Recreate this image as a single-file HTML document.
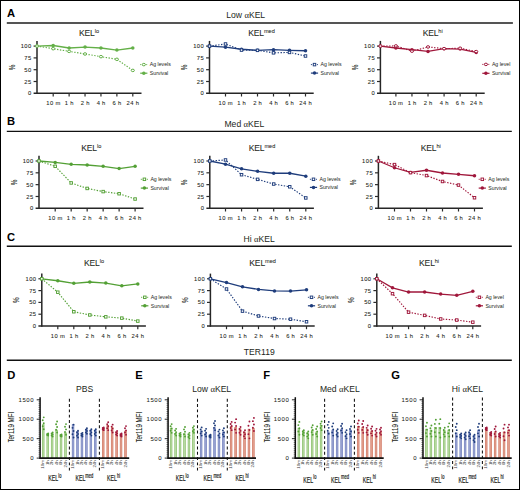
<!DOCTYPE html>
<html><head><meta charset="utf-8"><style>
html,body{margin:0;padding:0;background:#fff;width:520px;height:490px;overflow:hidden}
svg{display:block;font-family:"Liberation Sans", sans-serif}
</style></head><body>
<svg width="520" height="490" viewBox="0 0 520 490">
<rect x="0.5" y="0.5" width="519" height="489" fill="#fff" stroke="#000" stroke-width="1"/>
<text x="7.00" y="17.00" font-size="11.2" text-anchor="start" font-weight="bold" fill="#000" >A</text>
<text x="245.70" y="17.90" font-size="8.6" text-anchor="middle" font-weight="normal" fill="#231f20" >Low <tspan font-family="Liberation Serif">α</tspan>KEL</text>
<line x1="6.80" y1="23.00" x2="512.90" y2="23.00" stroke="#555" stroke-width="2.0" />
<text x="7.00" y="125.40" font-size="11.2" text-anchor="start" font-weight="bold" fill="#000" >B</text>
<text x="244.40" y="126.90" font-size="8.6" text-anchor="middle" font-weight="normal" fill="#231f20" >Med <tspan font-family="Liberation Serif">α</tspan>KEL</text>
<line x1="6.80" y1="131.40" x2="511.80" y2="131.40" stroke="#111" stroke-width="1.4" />
<text x="7.00" y="240.60" font-size="11.2" text-anchor="start" font-weight="bold" fill="#000" >C</text>
<text x="259.20" y="241.90" font-size="8.6" text-anchor="middle" font-weight="normal" fill="#231f20" >Hi <tspan font-family="Liberation Serif">α</tspan>KEL</text>
<line x1="6.80" y1="246.30" x2="511.80" y2="246.30" stroke="#111" stroke-width="1.4" />
<text x="259.30" y="355.20" font-size="8.6" text-anchor="middle" font-weight="normal" fill="#231f20" >TER119</text>
<line x1="6.80" y1="360.30" x2="511.80" y2="360.30" stroke="#111" stroke-width="1.4" />
<line x1="37.00" y1="40.91" x2="37.00" y2="94.05" stroke="#262626" stroke-width="1.5" />
<line x1="33.60" y1="93.30" x2="141.50" y2="93.30" stroke="#262626" stroke-width="1.5" />
<line x1="33.60" y1="81.50" x2="37.00" y2="81.50" stroke="#2b2b2b" stroke-width="1.2" />
<line x1="33.60" y1="69.70" x2="37.00" y2="69.70" stroke="#2b2b2b" stroke-width="1.2" />
<line x1="33.60" y1="57.90" x2="37.00" y2="57.90" stroke="#2b2b2b" stroke-width="1.2" />
<line x1="33.60" y1="46.10" x2="37.00" y2="46.10" stroke="#2b2b2b" stroke-width="1.2" />
<text x="31.70" y="95.35" font-size="5.8" text-anchor="end" font-weight="normal" fill="#231f20" stroke="#231f20" stroke-width="0.08" letter-spacing="0.45">0</text>
<text x="31.70" y="83.55" font-size="5.8" text-anchor="end" font-weight="normal" fill="#231f20" stroke="#231f20" stroke-width="0.08" letter-spacing="0.45">25</text>
<text x="31.70" y="71.75" font-size="5.8" text-anchor="end" font-weight="normal" fill="#231f20" stroke="#231f20" stroke-width="0.08" letter-spacing="0.45">50</text>
<text x="31.70" y="59.95" font-size="5.8" text-anchor="end" font-weight="normal" fill="#231f20" stroke="#231f20" stroke-width="0.08" letter-spacing="0.45">75</text>
<text x="31.70" y="48.15" font-size="5.8" text-anchor="end" font-weight="normal" fill="#231f20" stroke="#231f20" stroke-width="0.08" letter-spacing="0.45">100</text>
<line x1="53.20" y1="93.30" x2="53.20" y2="96.50" stroke="#2b2b2b" stroke-width="1.2" />
<text x="53.50" y="105.20" font-size="5.8" text-anchor="middle" font-weight="normal" fill="#231f20" stroke="#231f20" stroke-width="0.07" letter-spacing="0.6" word-spacing="-0.6">10 m</text>
<line x1="69.12" y1="93.30" x2="69.12" y2="96.50" stroke="#2b2b2b" stroke-width="1.2" />
<text x="69.42" y="105.20" font-size="5.8" text-anchor="middle" font-weight="normal" fill="#231f20" stroke="#231f20" stroke-width="0.07" letter-spacing="0.6" word-spacing="-0.6">1 h</text>
<line x1="85.04" y1="93.30" x2="85.04" y2="96.50" stroke="#2b2b2b" stroke-width="1.2" />
<text x="85.34" y="105.20" font-size="5.8" text-anchor="middle" font-weight="normal" fill="#231f20" stroke="#231f20" stroke-width="0.07" letter-spacing="0.6" word-spacing="-0.6">2 h</text>
<line x1="100.96" y1="93.30" x2="100.96" y2="96.50" stroke="#2b2b2b" stroke-width="1.2" />
<text x="101.26" y="105.20" font-size="5.8" text-anchor="middle" font-weight="normal" fill="#231f20" stroke="#231f20" stroke-width="0.07" letter-spacing="0.6" word-spacing="-0.6">4 h</text>
<line x1="116.88" y1="93.30" x2="116.88" y2="96.50" stroke="#2b2b2b" stroke-width="1.2" />
<text x="117.18" y="105.20" font-size="5.8" text-anchor="middle" font-weight="normal" fill="#231f20" stroke="#231f20" stroke-width="0.07" letter-spacing="0.6" word-spacing="-0.6">6 h</text>
<line x1="132.80" y1="93.30" x2="132.80" y2="96.50" stroke="#2b2b2b" stroke-width="1.2" />
<text x="133.10" y="105.20" font-size="5.8" text-anchor="middle" font-weight="normal" fill="#231f20" stroke="#231f20" stroke-width="0.07" letter-spacing="0.6" word-spacing="-0.6">24 h</text>
<text x="0" y="0" font-size="9" text-anchor="middle" fill="#231f20" stroke="#231f20" stroke-width="0.1" transform="translate(14.60,67.40) rotate(-90) scale(0.7,1)">%</text>
<polyline points="37.00,46.10 53.20,48.70 69.12,51.39 85.04,53.98 100.96,56.67 116.88,59.32 132.80,70.41" fill="none" stroke="#64b048" stroke-width="1.15" stroke-dasharray="1.4,1.5"/>
<polyline points="37.00,46.10 53.20,45.49 69.12,47.99 85.04,47.04 100.96,47.99 116.88,50.02 132.80,47.99" fill="none" stroke="#64b048" stroke-width="1.3"/>
<circle cx="37.00" cy="46.10" r="1.75" fill="#64b048"/>
<circle cx="53.20" cy="45.49" r="1.75" fill="#64b048"/>
<circle cx="69.12" cy="47.99" r="1.75" fill="#64b048"/>
<circle cx="85.04" cy="47.04" r="1.75" fill="#64b048"/>
<circle cx="100.96" cy="47.99" r="1.75" fill="#64b048"/>
<circle cx="116.88" cy="50.02" r="1.75" fill="#64b048"/>
<circle cx="132.80" cy="47.99" r="1.75" fill="#64b048"/>
<ellipse cx="37.00" cy="46.10" rx="1.6" ry="1.25" fill="#fff" stroke="#64b048" stroke-width="1.0"/>
<ellipse cx="53.20" cy="48.70" rx="1.6" ry="1.25" fill="#fff" stroke="#64b048" stroke-width="1.0"/>
<ellipse cx="69.12" cy="51.39" rx="1.6" ry="1.25" fill="#fff" stroke="#64b048" stroke-width="1.0"/>
<ellipse cx="85.04" cy="53.98" rx="1.6" ry="1.25" fill="#fff" stroke="#64b048" stroke-width="1.0"/>
<ellipse cx="100.96" cy="56.67" rx="1.6" ry="1.25" fill="#fff" stroke="#64b048" stroke-width="1.0"/>
<ellipse cx="116.88" cy="59.32" rx="1.6" ry="1.25" fill="#fff" stroke="#64b048" stroke-width="1.0"/>
<ellipse cx="132.80" cy="70.41" rx="1.6" ry="1.25" fill="#fff" stroke="#64b048" stroke-width="1.0"/>
<line x1="140.20" y1="64.60" x2="147.40" y2="64.60" stroke="#64b048" stroke-width="1" stroke-dasharray="1,1"/>
<ellipse cx="143.80" cy="64.60" rx="1.6" ry="1.25" fill="#fff" stroke="#64b048" stroke-width="1.0"/>
<line x1="140.20" y1="73.20" x2="147.40" y2="73.20" stroke="#64b048" stroke-width="1.2" />
<circle cx="143.80" cy="73.20" r="1.75" fill="#64b048"/>
<text x="149.80" y="66.40" font-size="5.2" text-anchor="start" font-weight="normal" fill="#231f20" >Ag levels</text>
<text x="149.80" y="75.00" font-size="5.2" text-anchor="start" font-weight="normal" fill="#231f20" >Survival</text>
<text x="89.00" y="35.80" font-size="8.6" text-anchor="middle" fill="#231f20" stroke="#231f20" stroke-width="0.05" letter-spacing="-0.2">KEL<tspan font-size="5.6" dy="-3.3" letter-spacing="0">lo</tspan></text>
<line x1="209.50" y1="40.91" x2="209.50" y2="94.05" stroke="#262626" stroke-width="1.5" />
<line x1="206.10" y1="93.30" x2="313.70" y2="93.30" stroke="#262626" stroke-width="1.5" />
<line x1="206.10" y1="81.50" x2="209.50" y2="81.50" stroke="#2b2b2b" stroke-width="1.2" />
<line x1="206.10" y1="69.70" x2="209.50" y2="69.70" stroke="#2b2b2b" stroke-width="1.2" />
<line x1="206.10" y1="57.90" x2="209.50" y2="57.90" stroke="#2b2b2b" stroke-width="1.2" />
<line x1="206.10" y1="46.10" x2="209.50" y2="46.10" stroke="#2b2b2b" stroke-width="1.2" />
<text x="204.20" y="95.35" font-size="5.8" text-anchor="end" font-weight="normal" fill="#231f20" stroke="#231f20" stroke-width="0.08" letter-spacing="0.45">0</text>
<text x="204.20" y="83.55" font-size="5.8" text-anchor="end" font-weight="normal" fill="#231f20" stroke="#231f20" stroke-width="0.08" letter-spacing="0.45">25</text>
<text x="204.20" y="71.75" font-size="5.8" text-anchor="end" font-weight="normal" fill="#231f20" stroke="#231f20" stroke-width="0.08" letter-spacing="0.45">50</text>
<text x="204.20" y="59.95" font-size="5.8" text-anchor="end" font-weight="normal" fill="#231f20" stroke="#231f20" stroke-width="0.08" letter-spacing="0.45">75</text>
<text x="204.20" y="48.15" font-size="5.8" text-anchor="end" font-weight="normal" fill="#231f20" stroke="#231f20" stroke-width="0.08" letter-spacing="0.45">100</text>
<line x1="225.50" y1="93.30" x2="225.50" y2="96.50" stroke="#2b2b2b" stroke-width="1.2" />
<text x="225.80" y="105.20" font-size="5.8" text-anchor="middle" font-weight="normal" fill="#231f20" stroke="#231f20" stroke-width="0.07" letter-spacing="0.6" word-spacing="-0.6">10 m</text>
<line x1="241.50" y1="93.30" x2="241.50" y2="96.50" stroke="#2b2b2b" stroke-width="1.2" />
<text x="241.80" y="105.20" font-size="5.8" text-anchor="middle" font-weight="normal" fill="#231f20" stroke="#231f20" stroke-width="0.07" letter-spacing="0.6" word-spacing="-0.6">1 h</text>
<line x1="257.50" y1="93.30" x2="257.50" y2="96.50" stroke="#2b2b2b" stroke-width="1.2" />
<text x="257.80" y="105.20" font-size="5.8" text-anchor="middle" font-weight="normal" fill="#231f20" stroke="#231f20" stroke-width="0.07" letter-spacing="0.6" word-spacing="-0.6">2 h</text>
<line x1="273.50" y1="93.30" x2="273.50" y2="96.50" stroke="#2b2b2b" stroke-width="1.2" />
<text x="273.80" y="105.20" font-size="5.8" text-anchor="middle" font-weight="normal" fill="#231f20" stroke="#231f20" stroke-width="0.07" letter-spacing="0.6" word-spacing="-0.6">4 h</text>
<line x1="289.50" y1="93.30" x2="289.50" y2="96.50" stroke="#2b2b2b" stroke-width="1.2" />
<text x="289.80" y="105.20" font-size="5.8" text-anchor="middle" font-weight="normal" fill="#231f20" stroke="#231f20" stroke-width="0.07" letter-spacing="0.6" word-spacing="-0.6">6 h</text>
<line x1="305.50" y1="93.30" x2="305.50" y2="96.50" stroke="#2b2b2b" stroke-width="1.2" />
<text x="305.80" y="105.20" font-size="5.8" text-anchor="middle" font-weight="normal" fill="#231f20" stroke="#231f20" stroke-width="0.07" letter-spacing="0.6" word-spacing="-0.6">24 h</text>
<text x="0" y="0" font-size="9" text-anchor="middle" fill="#231f20" stroke="#231f20" stroke-width="0.1" transform="translate(187.10,67.40) rotate(-90) scale(0.7,1)">%</text>
<polyline points="209.50,46.10 225.50,43.98 241.50,50.11 257.50,50.35 273.50,52.85 289.50,52.42 305.50,56.01" fill="none" stroke="#1f3d7c" stroke-width="1.15" stroke-dasharray="1.4,1.5"/>
<polyline points="209.50,46.10 225.50,47.14 241.50,49.26 257.50,50.35 273.50,49.69 289.50,50.35 305.50,50.73" fill="none" stroke="#1f3d7c" stroke-width="1.3"/>
<circle cx="209.50" cy="46.10" r="1.75" fill="#1f3d7c"/>
<circle cx="225.50" cy="47.14" r="1.75" fill="#1f3d7c"/>
<circle cx="241.50" cy="49.26" r="1.75" fill="#1f3d7c"/>
<circle cx="257.50" cy="50.35" r="1.75" fill="#1f3d7c"/>
<circle cx="273.50" cy="49.69" r="1.75" fill="#1f3d7c"/>
<circle cx="289.50" cy="50.35" r="1.75" fill="#1f3d7c"/>
<circle cx="305.50" cy="50.73" r="1.75" fill="#1f3d7c"/>
<rect x="208.25" y="44.85" width="2.5" height="2.5" fill="#fff" stroke="#1f3d7c" stroke-width="0.95"/>
<rect x="224.25" y="42.73" width="2.5" height="2.5" fill="#fff" stroke="#1f3d7c" stroke-width="0.95"/>
<rect x="240.25" y="48.86" width="2.5" height="2.5" fill="#fff" stroke="#1f3d7c" stroke-width="0.95"/>
<rect x="256.25" y="49.10" width="2.5" height="2.5" fill="#fff" stroke="#1f3d7c" stroke-width="0.95"/>
<rect x="272.25" y="51.60" width="2.5" height="2.5" fill="#fff" stroke="#1f3d7c" stroke-width="0.95"/>
<rect x="288.25" y="51.17" width="2.5" height="2.5" fill="#fff" stroke="#1f3d7c" stroke-width="0.95"/>
<rect x="304.25" y="54.76" width="2.5" height="2.5" fill="#fff" stroke="#1f3d7c" stroke-width="0.95"/>
<line x1="310.90" y1="64.60" x2="318.10" y2="64.60" stroke="#1f3d7c" stroke-width="1" stroke-dasharray="1,1"/>
<rect x="313.25" y="63.35" width="2.5" height="2.5" fill="#fff" stroke="#1f3d7c" stroke-width="0.95"/>
<line x1="310.90" y1="73.10" x2="318.10" y2="73.10" stroke="#1f3d7c" stroke-width="1.2" />
<circle cx="314.50" cy="73.10" r="1.75" fill="#1f3d7c"/>
<text x="320.50" y="66.40" font-size="5.2" text-anchor="start" font-weight="normal" fill="#231f20" >Ag levels</text>
<text x="320.50" y="74.90" font-size="5.2" text-anchor="start" font-weight="normal" fill="#231f20" >Survival</text>
<text x="261.50" y="35.80" font-size="8.6" text-anchor="middle" fill="#231f20" stroke="#231f20" stroke-width="0.05" letter-spacing="-0.2">KEL<tspan font-size="5.6" dy="-3.3" letter-spacing="0">med</tspan></text>
<line x1="380.40" y1="40.91" x2="380.40" y2="94.05" stroke="#262626" stroke-width="1.5" />
<line x1="377.00" y1="93.30" x2="484.70" y2="93.30" stroke="#262626" stroke-width="1.5" />
<line x1="377.00" y1="81.50" x2="380.40" y2="81.50" stroke="#2b2b2b" stroke-width="1.2" />
<line x1="377.00" y1="69.70" x2="380.40" y2="69.70" stroke="#2b2b2b" stroke-width="1.2" />
<line x1="377.00" y1="57.90" x2="380.40" y2="57.90" stroke="#2b2b2b" stroke-width="1.2" />
<line x1="377.00" y1="46.10" x2="380.40" y2="46.10" stroke="#2b2b2b" stroke-width="1.2" />
<text x="375.10" y="95.35" font-size="5.8" text-anchor="end" font-weight="normal" fill="#231f20" stroke="#231f20" stroke-width="0.08" letter-spacing="0.45">0</text>
<text x="375.10" y="83.55" font-size="5.8" text-anchor="end" font-weight="normal" fill="#231f20" stroke="#231f20" stroke-width="0.08" letter-spacing="0.45">25</text>
<text x="375.10" y="71.75" font-size="5.8" text-anchor="end" font-weight="normal" fill="#231f20" stroke="#231f20" stroke-width="0.08" letter-spacing="0.45">50</text>
<text x="375.10" y="59.95" font-size="5.8" text-anchor="end" font-weight="normal" fill="#231f20" stroke="#231f20" stroke-width="0.08" letter-spacing="0.45">75</text>
<text x="375.10" y="48.15" font-size="5.8" text-anchor="end" font-weight="normal" fill="#231f20" stroke="#231f20" stroke-width="0.08" letter-spacing="0.45">100</text>
<line x1="395.90" y1="93.30" x2="395.90" y2="96.50" stroke="#2b2b2b" stroke-width="1.2" />
<text x="396.20" y="105.20" font-size="5.8" text-anchor="middle" font-weight="normal" fill="#231f20" stroke="#231f20" stroke-width="0.07" letter-spacing="0.6" word-spacing="-0.6">10 m</text>
<line x1="411.96" y1="93.30" x2="411.96" y2="96.50" stroke="#2b2b2b" stroke-width="1.2" />
<text x="412.26" y="105.20" font-size="5.8" text-anchor="middle" font-weight="normal" fill="#231f20" stroke="#231f20" stroke-width="0.07" letter-spacing="0.6" word-spacing="-0.6">1 h</text>
<line x1="428.02" y1="93.30" x2="428.02" y2="96.50" stroke="#2b2b2b" stroke-width="1.2" />
<text x="428.32" y="105.20" font-size="5.8" text-anchor="middle" font-weight="normal" fill="#231f20" stroke="#231f20" stroke-width="0.07" letter-spacing="0.6" word-spacing="-0.6">2 h</text>
<line x1="444.08" y1="93.30" x2="444.08" y2="96.50" stroke="#2b2b2b" stroke-width="1.2" />
<text x="444.38" y="105.20" font-size="5.8" text-anchor="middle" font-weight="normal" fill="#231f20" stroke="#231f20" stroke-width="0.07" letter-spacing="0.6" word-spacing="-0.6">4 h</text>
<line x1="460.14" y1="93.30" x2="460.14" y2="96.50" stroke="#2b2b2b" stroke-width="1.2" />
<text x="460.44" y="105.20" font-size="5.8" text-anchor="middle" font-weight="normal" fill="#231f20" stroke="#231f20" stroke-width="0.07" letter-spacing="0.6" word-spacing="-0.6">6 h</text>
<line x1="476.20" y1="93.30" x2="476.20" y2="96.50" stroke="#2b2b2b" stroke-width="1.2" />
<text x="476.50" y="105.20" font-size="5.8" text-anchor="middle" font-weight="normal" fill="#231f20" stroke="#231f20" stroke-width="0.07" letter-spacing="0.6" word-spacing="-0.6">24 h</text>
<text x="0" y="0" font-size="9" text-anchor="middle" fill="#231f20" stroke="#231f20" stroke-width="0.1" transform="translate(358.00,67.40) rotate(-90) scale(0.7,1)">%</text>
<polyline points="380.40,46.10 395.90,45.91 411.96,51.15 428.02,46.95 444.08,48.65 460.14,48.22 476.20,51.58" fill="none" stroke="#a0173b" stroke-width="1.15" stroke-dasharray="1.4,1.5"/>
<polyline points="380.40,46.10 395.90,47.99 411.96,49.69 428.02,51.39 444.08,48.65 460.14,49.03 476.20,52.42" fill="none" stroke="#a0173b" stroke-width="1.3"/>
<circle cx="380.40" cy="46.10" r="1.75" fill="#a0173b"/>
<circle cx="395.90" cy="47.99" r="1.75" fill="#a0173b"/>
<circle cx="411.96" cy="49.69" r="1.75" fill="#a0173b"/>
<circle cx="428.02" cy="51.39" r="1.75" fill="#a0173b"/>
<circle cx="444.08" cy="48.65" r="1.75" fill="#a0173b"/>
<circle cx="460.14" cy="49.03" r="1.75" fill="#a0173b"/>
<circle cx="476.20" cy="52.42" r="1.75" fill="#a0173b"/>
<ellipse cx="380.40" cy="46.10" rx="1.6" ry="1.25" fill="#fff" stroke="#a0173b" stroke-width="1.0"/>
<ellipse cx="395.90" cy="45.91" rx="1.6" ry="1.25" fill="#fff" stroke="#a0173b" stroke-width="1.0"/>
<ellipse cx="411.96" cy="51.15" rx="1.6" ry="1.25" fill="#fff" stroke="#a0173b" stroke-width="1.0"/>
<ellipse cx="428.02" cy="46.95" rx="1.6" ry="1.25" fill="#fff" stroke="#a0173b" stroke-width="1.0"/>
<ellipse cx="444.08" cy="48.65" rx="1.6" ry="1.25" fill="#fff" stroke="#a0173b" stroke-width="1.0"/>
<ellipse cx="460.14" cy="48.22" rx="1.6" ry="1.25" fill="#fff" stroke="#a0173b" stroke-width="1.0"/>
<ellipse cx="476.20" cy="51.58" rx="1.6" ry="1.25" fill="#fff" stroke="#a0173b" stroke-width="1.0"/>
<line x1="482.30" y1="64.40" x2="489.50" y2="64.40" stroke="#a0173b" stroke-width="1" stroke-dasharray="1,1"/>
<ellipse cx="485.90" cy="64.40" rx="1.6" ry="1.25" fill="#fff" stroke="#a0173b" stroke-width="1.0"/>
<line x1="482.30" y1="73.30" x2="489.50" y2="73.30" stroke="#a0173b" stroke-width="1.2" />
<circle cx="485.90" cy="73.30" r="1.75" fill="#a0173b"/>
<text x="491.90" y="66.20" font-size="5.2" text-anchor="start" font-weight="normal" fill="#231f20" >Ag level</text>
<text x="491.90" y="75.10" font-size="5.2" text-anchor="start" font-weight="normal" fill="#231f20" >Survival</text>
<text x="432.70" y="35.80" font-size="8.6" text-anchor="middle" fill="#231f20" stroke="#231f20" stroke-width="0.05" letter-spacing="-0.2">KEL<tspan font-size="5.6" dy="-3.3" letter-spacing="0">hi</tspan></text>
<line x1="39.00" y1="155.80" x2="39.00" y2="209.05" stroke="#262626" stroke-width="1.5" />
<line x1="35.60" y1="208.30" x2="143.50" y2="208.30" stroke="#262626" stroke-width="1.5" />
<line x1="35.60" y1="196.48" x2="39.00" y2="196.48" stroke="#2b2b2b" stroke-width="1.2" />
<line x1="35.60" y1="184.65" x2="39.00" y2="184.65" stroke="#2b2b2b" stroke-width="1.2" />
<line x1="35.60" y1="172.82" x2="39.00" y2="172.82" stroke="#2b2b2b" stroke-width="1.2" />
<line x1="35.60" y1="161.00" x2="39.00" y2="161.00" stroke="#2b2b2b" stroke-width="1.2" />
<text x="33.70" y="210.35" font-size="5.8" text-anchor="end" font-weight="normal" fill="#231f20" stroke="#231f20" stroke-width="0.08" letter-spacing="0.45">0</text>
<text x="33.70" y="198.53" font-size="5.8" text-anchor="end" font-weight="normal" fill="#231f20" stroke="#231f20" stroke-width="0.08" letter-spacing="0.45">25</text>
<text x="33.70" y="186.70" font-size="5.8" text-anchor="end" font-weight="normal" fill="#231f20" stroke="#231f20" stroke-width="0.08" letter-spacing="0.45">50</text>
<text x="33.70" y="174.88" font-size="5.8" text-anchor="end" font-weight="normal" fill="#231f20" stroke="#231f20" stroke-width="0.08" letter-spacing="0.45">75</text>
<text x="33.70" y="163.05" font-size="5.8" text-anchor="end" font-weight="normal" fill="#231f20" stroke="#231f20" stroke-width="0.08" letter-spacing="0.45">100</text>
<line x1="55.20" y1="208.30" x2="55.20" y2="211.50" stroke="#2b2b2b" stroke-width="1.2" />
<text x="55.50" y="220.20" font-size="5.8" text-anchor="middle" font-weight="normal" fill="#231f20" stroke="#231f20" stroke-width="0.07" letter-spacing="0.6" word-spacing="-0.6">10 m</text>
<line x1="71.18" y1="208.30" x2="71.18" y2="211.50" stroke="#2b2b2b" stroke-width="1.2" />
<text x="71.48" y="220.20" font-size="5.8" text-anchor="middle" font-weight="normal" fill="#231f20" stroke="#231f20" stroke-width="0.07" letter-spacing="0.6" word-spacing="-0.6">1 h</text>
<line x1="87.16" y1="208.30" x2="87.16" y2="211.50" stroke="#2b2b2b" stroke-width="1.2" />
<text x="87.46" y="220.20" font-size="5.8" text-anchor="middle" font-weight="normal" fill="#231f20" stroke="#231f20" stroke-width="0.07" letter-spacing="0.6" word-spacing="-0.6">2 h</text>
<line x1="103.14" y1="208.30" x2="103.14" y2="211.50" stroke="#2b2b2b" stroke-width="1.2" />
<text x="103.44" y="220.20" font-size="5.8" text-anchor="middle" font-weight="normal" fill="#231f20" stroke="#231f20" stroke-width="0.07" letter-spacing="0.6" word-spacing="-0.6">4 h</text>
<line x1="119.12" y1="208.30" x2="119.12" y2="211.50" stroke="#2b2b2b" stroke-width="1.2" />
<text x="119.42" y="220.20" font-size="5.8" text-anchor="middle" font-weight="normal" fill="#231f20" stroke="#231f20" stroke-width="0.07" letter-spacing="0.6" word-spacing="-0.6">6 h</text>
<line x1="135.10" y1="208.30" x2="135.10" y2="211.50" stroke="#2b2b2b" stroke-width="1.2" />
<text x="135.40" y="220.20" font-size="5.8" text-anchor="middle" font-weight="normal" fill="#231f20" stroke="#231f20" stroke-width="0.07" letter-spacing="0.6" word-spacing="-0.6">24 h</text>
<text x="0" y="0" font-size="9" text-anchor="middle" fill="#231f20" stroke="#231f20" stroke-width="0.1" transform="translate(16.60,182.35) rotate(-90) scale(0.7,1)">%</text>
<polyline points="39.00,161.00 55.20,166.30 71.18,182.95 87.16,188.43 103.14,191.60 119.12,193.73 135.10,199.03" fill="none" stroke="#53a035" stroke-width="1.15" stroke-dasharray="1.4,1.5"/>
<polyline points="39.00,161.00 55.20,162.47 71.18,164.36 87.16,165.02 103.14,166.30 119.12,168.62 135.10,166.30" fill="none" stroke="#53a035" stroke-width="1.3"/>
<circle cx="39.00" cy="161.00" r="1.75" fill="#53a035"/>
<circle cx="55.20" cy="162.47" r="1.75" fill="#53a035"/>
<circle cx="71.18" cy="164.36" r="1.75" fill="#53a035"/>
<circle cx="87.16" cy="165.02" r="1.75" fill="#53a035"/>
<circle cx="103.14" cy="166.30" r="1.75" fill="#53a035"/>
<circle cx="119.12" cy="168.62" r="1.75" fill="#53a035"/>
<circle cx="135.10" cy="166.30" r="1.75" fill="#53a035"/>
<rect x="37.75" y="159.75" width="2.5" height="2.5" fill="#fff" stroke="#53a035" stroke-width="0.95"/>
<rect x="53.95" y="165.05" width="2.5" height="2.5" fill="#fff" stroke="#53a035" stroke-width="0.95"/>
<rect x="69.93" y="181.70" width="2.5" height="2.5" fill="#fff" stroke="#53a035" stroke-width="0.95"/>
<rect x="85.91" y="187.18" width="2.5" height="2.5" fill="#fff" stroke="#53a035" stroke-width="0.95"/>
<rect x="101.89" y="190.35" width="2.5" height="2.5" fill="#fff" stroke="#53a035" stroke-width="0.95"/>
<rect x="117.87" y="192.48" width="2.5" height="2.5" fill="#fff" stroke="#53a035" stroke-width="0.95"/>
<rect x="133.85" y="197.78" width="2.5" height="2.5" fill="#fff" stroke="#53a035" stroke-width="0.95"/>
<line x1="140.80" y1="179.30" x2="148.00" y2="179.30" stroke="#53a035" stroke-width="1" stroke-dasharray="1,1"/>
<rect x="143.15" y="178.05" width="2.5" height="2.5" fill="#fff" stroke="#53a035" stroke-width="0.95"/>
<line x1="140.80" y1="188.10" x2="148.00" y2="188.10" stroke="#53a035" stroke-width="1.2" />
<circle cx="144.40" cy="188.10" r="1.75" fill="#53a035"/>
<text x="150.40" y="181.10" font-size="5.2" text-anchor="start" font-weight="normal" fill="#231f20" >Ag levels</text>
<text x="150.40" y="189.90" font-size="5.2" text-anchor="start" font-weight="normal" fill="#231f20" >Survival</text>
<text x="91.30" y="151.20" font-size="8.6" text-anchor="middle" fill="#231f20" stroke="#231f20" stroke-width="0.05" letter-spacing="-0.2">KEL<tspan font-size="5.6" dy="-3.3" letter-spacing="0">lo</tspan></text>
<line x1="209.80" y1="155.80" x2="209.80" y2="209.05" stroke="#262626" stroke-width="1.5" />
<line x1="206.40" y1="208.30" x2="313.90" y2="208.30" stroke="#262626" stroke-width="1.5" />
<line x1="206.40" y1="196.48" x2="209.80" y2="196.48" stroke="#2b2b2b" stroke-width="1.2" />
<line x1="206.40" y1="184.65" x2="209.80" y2="184.65" stroke="#2b2b2b" stroke-width="1.2" />
<line x1="206.40" y1="172.82" x2="209.80" y2="172.82" stroke="#2b2b2b" stroke-width="1.2" />
<line x1="206.40" y1="161.00" x2="209.80" y2="161.00" stroke="#2b2b2b" stroke-width="1.2" />
<text x="204.50" y="210.35" font-size="5.8" text-anchor="end" font-weight="normal" fill="#231f20" stroke="#231f20" stroke-width="0.08" letter-spacing="0.45">0</text>
<text x="204.50" y="198.53" font-size="5.8" text-anchor="end" font-weight="normal" fill="#231f20" stroke="#231f20" stroke-width="0.08" letter-spacing="0.45">25</text>
<text x="204.50" y="186.70" font-size="5.8" text-anchor="end" font-weight="normal" fill="#231f20" stroke="#231f20" stroke-width="0.08" letter-spacing="0.45">50</text>
<text x="204.50" y="174.88" font-size="5.8" text-anchor="end" font-weight="normal" fill="#231f20" stroke="#231f20" stroke-width="0.08" letter-spacing="0.45">75</text>
<text x="204.50" y="163.05" font-size="5.8" text-anchor="end" font-weight="normal" fill="#231f20" stroke="#231f20" stroke-width="0.08" letter-spacing="0.45">100</text>
<line x1="225.50" y1="208.30" x2="225.50" y2="211.50" stroke="#2b2b2b" stroke-width="1.2" />
<text x="225.80" y="220.20" font-size="5.8" text-anchor="middle" font-weight="normal" fill="#231f20" stroke="#231f20" stroke-width="0.07" letter-spacing="0.6" word-spacing="-0.6">10 m</text>
<line x1="241.56" y1="208.30" x2="241.56" y2="211.50" stroke="#2b2b2b" stroke-width="1.2" />
<text x="241.86" y="220.20" font-size="5.8" text-anchor="middle" font-weight="normal" fill="#231f20" stroke="#231f20" stroke-width="0.07" letter-spacing="0.6" word-spacing="-0.6">1 h</text>
<line x1="257.62" y1="208.30" x2="257.62" y2="211.50" stroke="#2b2b2b" stroke-width="1.2" />
<text x="257.92" y="220.20" font-size="5.8" text-anchor="middle" font-weight="normal" fill="#231f20" stroke="#231f20" stroke-width="0.07" letter-spacing="0.6" word-spacing="-0.6">2 h</text>
<line x1="273.68" y1="208.30" x2="273.68" y2="211.50" stroke="#2b2b2b" stroke-width="1.2" />
<text x="273.98" y="220.20" font-size="5.8" text-anchor="middle" font-weight="normal" fill="#231f20" stroke="#231f20" stroke-width="0.07" letter-spacing="0.6" word-spacing="-0.6">4 h</text>
<line x1="289.74" y1="208.30" x2="289.74" y2="211.50" stroke="#2b2b2b" stroke-width="1.2" />
<text x="290.04" y="220.20" font-size="5.8" text-anchor="middle" font-weight="normal" fill="#231f20" stroke="#231f20" stroke-width="0.07" letter-spacing="0.6" word-spacing="-0.6">6 h</text>
<line x1="305.80" y1="208.30" x2="305.80" y2="211.50" stroke="#2b2b2b" stroke-width="1.2" />
<text x="306.10" y="220.20" font-size="5.8" text-anchor="middle" font-weight="normal" fill="#231f20" stroke="#231f20" stroke-width="0.07" letter-spacing="0.6" word-spacing="-0.6">24 h</text>
<text x="0" y="0" font-size="9" text-anchor="middle" fill="#231f20" stroke="#231f20" stroke-width="0.1" transform="translate(187.40,182.35) rotate(-90) scale(0.7,1)">%</text>
<polyline points="209.80,161.00 225.50,159.96 241.56,174.72 257.62,179.35 273.68,184.04 289.74,186.78 305.80,197.94" fill="none" stroke="#1f3d7c" stroke-width="1.15" stroke-dasharray="1.4,1.5"/>
<polyline points="209.80,161.00 225.50,164.17 241.56,168.80 257.62,171.36 273.68,173.25 289.74,173.25 305.80,176.18" fill="none" stroke="#1f3d7c" stroke-width="1.3"/>
<circle cx="209.80" cy="161.00" r="1.75" fill="#1f3d7c"/>
<circle cx="225.50" cy="164.17" r="1.75" fill="#1f3d7c"/>
<circle cx="241.56" cy="168.80" r="1.75" fill="#1f3d7c"/>
<circle cx="257.62" cy="171.36" r="1.75" fill="#1f3d7c"/>
<circle cx="273.68" cy="173.25" r="1.75" fill="#1f3d7c"/>
<circle cx="289.74" cy="173.25" r="1.75" fill="#1f3d7c"/>
<circle cx="305.80" cy="176.18" r="1.75" fill="#1f3d7c"/>
<rect x="208.55" y="159.75" width="2.5" height="2.5" fill="#fff" stroke="#1f3d7c" stroke-width="0.95"/>
<rect x="224.25" y="158.71" width="2.5" height="2.5" fill="#fff" stroke="#1f3d7c" stroke-width="0.95"/>
<rect x="240.31" y="173.47" width="2.5" height="2.5" fill="#fff" stroke="#1f3d7c" stroke-width="0.95"/>
<rect x="256.37" y="178.10" width="2.5" height="2.5" fill="#fff" stroke="#1f3d7c" stroke-width="0.95"/>
<rect x="272.43" y="182.79" width="2.5" height="2.5" fill="#fff" stroke="#1f3d7c" stroke-width="0.95"/>
<rect x="288.49" y="185.53" width="2.5" height="2.5" fill="#fff" stroke="#1f3d7c" stroke-width="0.95"/>
<rect x="304.55" y="196.69" width="2.5" height="2.5" fill="#fff" stroke="#1f3d7c" stroke-width="0.95"/>
<line x1="309.90" y1="179.30" x2="317.10" y2="179.30" stroke="#1f3d7c" stroke-width="1" stroke-dasharray="1,1"/>
<rect x="312.25" y="178.05" width="2.5" height="2.5" fill="#fff" stroke="#1f3d7c" stroke-width="0.95"/>
<line x1="309.90" y1="187.40" x2="317.10" y2="187.40" stroke="#1f3d7c" stroke-width="1.2" />
<circle cx="313.50" cy="187.40" r="1.75" fill="#1f3d7c"/>
<text x="319.50" y="181.10" font-size="5.2" text-anchor="start" font-weight="normal" fill="#231f20" >Ag levels</text>
<text x="319.50" y="189.20" font-size="5.2" text-anchor="start" font-weight="normal" fill="#231f20" >Survival</text>
<text x="262.00" y="151.20" font-size="8.6" text-anchor="middle" fill="#231f20" stroke="#231f20" stroke-width="0.05" letter-spacing="-0.2">KEL<tspan font-size="5.6" dy="-3.3" letter-spacing="0">med</tspan></text>
<line x1="378.40" y1="155.80" x2="378.40" y2="209.05" stroke="#262626" stroke-width="1.5" />
<line x1="375.00" y1="208.30" x2="482.90" y2="208.30" stroke="#262626" stroke-width="1.5" />
<line x1="375.00" y1="196.48" x2="378.40" y2="196.48" stroke="#2b2b2b" stroke-width="1.2" />
<line x1="375.00" y1="184.65" x2="378.40" y2="184.65" stroke="#2b2b2b" stroke-width="1.2" />
<line x1="375.00" y1="172.82" x2="378.40" y2="172.82" stroke="#2b2b2b" stroke-width="1.2" />
<line x1="375.00" y1="161.00" x2="378.40" y2="161.00" stroke="#2b2b2b" stroke-width="1.2" />
<text x="373.10" y="210.35" font-size="5.8" text-anchor="end" font-weight="normal" fill="#231f20" stroke="#231f20" stroke-width="0.08" letter-spacing="0.45">0</text>
<text x="373.10" y="198.53" font-size="5.8" text-anchor="end" font-weight="normal" fill="#231f20" stroke="#231f20" stroke-width="0.08" letter-spacing="0.45">25</text>
<text x="373.10" y="186.70" font-size="5.8" text-anchor="end" font-weight="normal" fill="#231f20" stroke="#231f20" stroke-width="0.08" letter-spacing="0.45">50</text>
<text x="373.10" y="174.88" font-size="5.8" text-anchor="end" font-weight="normal" fill="#231f20" stroke="#231f20" stroke-width="0.08" letter-spacing="0.45">75</text>
<text x="373.10" y="163.05" font-size="5.8" text-anchor="end" font-weight="normal" fill="#231f20" stroke="#231f20" stroke-width="0.08" letter-spacing="0.45">100</text>
<line x1="394.50" y1="208.30" x2="394.50" y2="211.50" stroke="#2b2b2b" stroke-width="1.2" />
<text x="394.80" y="220.20" font-size="5.8" text-anchor="middle" font-weight="normal" fill="#231f20" stroke="#231f20" stroke-width="0.07" letter-spacing="0.6" word-spacing="-0.6">10 m</text>
<line x1="410.50" y1="208.30" x2="410.50" y2="211.50" stroke="#2b2b2b" stroke-width="1.2" />
<text x="410.80" y="220.20" font-size="5.8" text-anchor="middle" font-weight="normal" fill="#231f20" stroke="#231f20" stroke-width="0.07" letter-spacing="0.6" word-spacing="-0.6">1 h</text>
<line x1="426.50" y1="208.30" x2="426.50" y2="211.50" stroke="#2b2b2b" stroke-width="1.2" />
<text x="426.80" y="220.20" font-size="5.8" text-anchor="middle" font-weight="normal" fill="#231f20" stroke="#231f20" stroke-width="0.07" letter-spacing="0.6" word-spacing="-0.6">2 h</text>
<line x1="442.50" y1="208.30" x2="442.50" y2="211.50" stroke="#2b2b2b" stroke-width="1.2" />
<text x="442.80" y="220.20" font-size="5.8" text-anchor="middle" font-weight="normal" fill="#231f20" stroke="#231f20" stroke-width="0.07" letter-spacing="0.6" word-spacing="-0.6">4 h</text>
<line x1="458.50" y1="208.30" x2="458.50" y2="211.50" stroke="#2b2b2b" stroke-width="1.2" />
<text x="458.80" y="220.20" font-size="5.8" text-anchor="middle" font-weight="normal" fill="#231f20" stroke="#231f20" stroke-width="0.07" letter-spacing="0.6" word-spacing="-0.6">6 h</text>
<line x1="474.50" y1="208.30" x2="474.50" y2="211.50" stroke="#2b2b2b" stroke-width="1.2" />
<text x="474.80" y="220.20" font-size="5.8" text-anchor="middle" font-weight="normal" fill="#231f20" stroke="#231f20" stroke-width="0.07" letter-spacing="0.6" word-spacing="-0.6">24 h</text>
<text x="0" y="0" font-size="9" text-anchor="middle" fill="#231f20" stroke="#231f20" stroke-width="0.1" transform="translate(356.00,182.35) rotate(-90) scale(0.7,1)">%</text>
<polyline points="378.40,161.00 394.50,164.59 410.50,172.64 426.50,175.57 442.50,181.48 458.50,185.08 474.50,197.75" fill="none" stroke="#a0173b" stroke-width="1.15" stroke-dasharray="1.4,1.5"/>
<polyline points="378.40,161.00 394.50,167.76 410.50,172.40 426.50,170.27 442.50,173.01 458.50,174.29 474.50,175.76" fill="none" stroke="#a0173b" stroke-width="1.3"/>
<circle cx="378.40" cy="161.00" r="1.75" fill="#a0173b"/>
<circle cx="394.50" cy="167.76" r="1.75" fill="#a0173b"/>
<circle cx="410.50" cy="172.40" r="1.75" fill="#a0173b"/>
<circle cx="426.50" cy="170.27" r="1.75" fill="#a0173b"/>
<circle cx="442.50" cy="173.01" r="1.75" fill="#a0173b"/>
<circle cx="458.50" cy="174.29" r="1.75" fill="#a0173b"/>
<circle cx="474.50" cy="175.76" r="1.75" fill="#a0173b"/>
<rect x="377.15" y="159.75" width="2.5" height="2.5" fill="#fff" stroke="#a0173b" stroke-width="0.95"/>
<rect x="393.25" y="163.34" width="2.5" height="2.5" fill="#fff" stroke="#a0173b" stroke-width="0.95"/>
<rect x="409.25" y="171.39" width="2.5" height="2.5" fill="#fff" stroke="#a0173b" stroke-width="0.95"/>
<rect x="425.25" y="174.32" width="2.5" height="2.5" fill="#fff" stroke="#a0173b" stroke-width="0.95"/>
<rect x="441.25" y="180.23" width="2.5" height="2.5" fill="#fff" stroke="#a0173b" stroke-width="0.95"/>
<rect x="457.25" y="183.83" width="2.5" height="2.5" fill="#fff" stroke="#a0173b" stroke-width="0.95"/>
<rect x="473.25" y="196.50" width="2.5" height="2.5" fill="#fff" stroke="#a0173b" stroke-width="0.95"/>
<line x1="478.70" y1="179.30" x2="485.90" y2="179.30" stroke="#a0173b" stroke-width="1" stroke-dasharray="1,1"/>
<rect x="481.05" y="178.05" width="2.5" height="2.5" fill="#fff" stroke="#a0173b" stroke-width="0.95"/>
<line x1="478.70" y1="188.10" x2="485.90" y2="188.10" stroke="#a0173b" stroke-width="1.2" />
<circle cx="482.30" cy="188.10" r="1.75" fill="#a0173b"/>
<text x="488.30" y="181.10" font-size="5.2" text-anchor="start" font-weight="normal" fill="#231f20" >Ag levels</text>
<text x="488.30" y="189.90" font-size="5.2" text-anchor="start" font-weight="normal" fill="#231f20" >Survival</text>
<text x="430.80" y="151.20" font-size="8.6" text-anchor="middle" fill="#231f20" stroke="#231f20" stroke-width="0.05" letter-spacing="-0.2">KEL<tspan font-size="5.6" dy="-3.3" letter-spacing="0">hi</tspan></text>
<line x1="41.80" y1="273.61" x2="41.80" y2="326.75" stroke="#262626" stroke-width="1.5" />
<line x1="38.40" y1="326.00" x2="145.90" y2="326.00" stroke="#262626" stroke-width="1.5" />
<line x1="38.40" y1="314.20" x2="41.80" y2="314.20" stroke="#2b2b2b" stroke-width="1.2" />
<line x1="38.40" y1="302.40" x2="41.80" y2="302.40" stroke="#2b2b2b" stroke-width="1.2" />
<line x1="38.40" y1="290.60" x2="41.80" y2="290.60" stroke="#2b2b2b" stroke-width="1.2" />
<line x1="38.40" y1="278.80" x2="41.80" y2="278.80" stroke="#2b2b2b" stroke-width="1.2" />
<text x="36.50" y="328.05" font-size="5.8" text-anchor="end" font-weight="normal" fill="#231f20" stroke="#231f20" stroke-width="0.08" letter-spacing="0.45">0</text>
<text x="36.50" y="316.25" font-size="5.8" text-anchor="end" font-weight="normal" fill="#231f20" stroke="#231f20" stroke-width="0.08" letter-spacing="0.45">25</text>
<text x="36.50" y="304.45" font-size="5.8" text-anchor="end" font-weight="normal" fill="#231f20" stroke="#231f20" stroke-width="0.08" letter-spacing="0.45">50</text>
<text x="36.50" y="292.65" font-size="5.8" text-anchor="end" font-weight="normal" fill="#231f20" stroke="#231f20" stroke-width="0.08" letter-spacing="0.45">75</text>
<text x="36.50" y="280.85" font-size="5.8" text-anchor="end" font-weight="normal" fill="#231f20" stroke="#231f20" stroke-width="0.08" letter-spacing="0.45">100</text>
<line x1="57.80" y1="326.00" x2="57.80" y2="329.20" stroke="#2b2b2b" stroke-width="1.2" />
<text x="58.10" y="337.90" font-size="5.8" text-anchor="middle" font-weight="normal" fill="#231f20" stroke="#231f20" stroke-width="0.07" letter-spacing="0.6" word-spacing="-0.6">10 m</text>
<line x1="73.80" y1="326.00" x2="73.80" y2="329.20" stroke="#2b2b2b" stroke-width="1.2" />
<text x="74.10" y="337.90" font-size="5.8" text-anchor="middle" font-weight="normal" fill="#231f20" stroke="#231f20" stroke-width="0.07" letter-spacing="0.6" word-spacing="-0.6">1 h</text>
<line x1="89.80" y1="326.00" x2="89.80" y2="329.20" stroke="#2b2b2b" stroke-width="1.2" />
<text x="90.10" y="337.90" font-size="5.8" text-anchor="middle" font-weight="normal" fill="#231f20" stroke="#231f20" stroke-width="0.07" letter-spacing="0.6" word-spacing="-0.6">2 h</text>
<line x1="105.80" y1="326.00" x2="105.80" y2="329.20" stroke="#2b2b2b" stroke-width="1.2" />
<text x="106.10" y="337.90" font-size="5.8" text-anchor="middle" font-weight="normal" fill="#231f20" stroke="#231f20" stroke-width="0.07" letter-spacing="0.6" word-spacing="-0.6">4 h</text>
<line x1="121.80" y1="326.00" x2="121.80" y2="329.20" stroke="#2b2b2b" stroke-width="1.2" />
<text x="122.10" y="337.90" font-size="5.8" text-anchor="middle" font-weight="normal" fill="#231f20" stroke="#231f20" stroke-width="0.07" letter-spacing="0.6" word-spacing="-0.6">6 h</text>
<line x1="137.80" y1="326.00" x2="137.80" y2="329.20" stroke="#2b2b2b" stroke-width="1.2" />
<text x="138.10" y="337.90" font-size="5.8" text-anchor="middle" font-weight="normal" fill="#231f20" stroke="#231f20" stroke-width="0.07" letter-spacing="0.6" word-spacing="-0.6">24 h</text>
<text x="0" y="0" font-size="9" text-anchor="middle" fill="#231f20" stroke="#231f20" stroke-width="0.1" transform="translate(19.40,300.10) rotate(-90) scale(0.7,1)">%</text>
<polyline points="41.80,278.80 57.80,292.20 73.80,311.75 89.80,314.96 105.80,316.84 121.80,318.12 137.80,321.09" fill="none" stroke="#53a035" stroke-width="1.15" stroke-dasharray="1.4,1.5"/>
<polyline points="41.80,278.80 57.80,280.74 73.80,283.28 89.80,282.01 105.80,283.05 121.80,285.83 137.80,283.90" fill="none" stroke="#53a035" stroke-width="1.3"/>
<circle cx="41.80" cy="278.80" r="1.75" fill="#53a035"/>
<circle cx="57.80" cy="280.74" r="1.75" fill="#53a035"/>
<circle cx="73.80" cy="283.28" r="1.75" fill="#53a035"/>
<circle cx="89.80" cy="282.01" r="1.75" fill="#53a035"/>
<circle cx="105.80" cy="283.05" r="1.75" fill="#53a035"/>
<circle cx="121.80" cy="285.83" r="1.75" fill="#53a035"/>
<circle cx="137.80" cy="283.90" r="1.75" fill="#53a035"/>
<rect x="40.55" y="277.55" width="2.5" height="2.5" fill="#fff" stroke="#53a035" stroke-width="0.95"/>
<rect x="56.55" y="290.95" width="2.5" height="2.5" fill="#fff" stroke="#53a035" stroke-width="0.95"/>
<rect x="72.55" y="310.50" width="2.5" height="2.5" fill="#fff" stroke="#53a035" stroke-width="0.95"/>
<rect x="88.55" y="313.71" width="2.5" height="2.5" fill="#fff" stroke="#53a035" stroke-width="0.95"/>
<rect x="104.55" y="315.59" width="2.5" height="2.5" fill="#fff" stroke="#53a035" stroke-width="0.95"/>
<rect x="120.55" y="316.87" width="2.5" height="2.5" fill="#fff" stroke="#53a035" stroke-width="0.95"/>
<rect x="136.55" y="319.84" width="2.5" height="2.5" fill="#fff" stroke="#53a035" stroke-width="0.95"/>
<line x1="141.20" y1="297.30" x2="148.40" y2="297.30" stroke="#53a035" stroke-width="1" stroke-dasharray="1,1"/>
<rect x="143.55" y="296.05" width="2.5" height="2.5" fill="#fff" stroke="#53a035" stroke-width="0.95"/>
<line x1="141.20" y1="305.80" x2="148.40" y2="305.80" stroke="#53a035" stroke-width="1.2" />
<circle cx="144.80" cy="305.80" r="1.75" fill="#53a035"/>
<text x="150.80" y="299.10" font-size="5.2" text-anchor="start" font-weight="normal" fill="#231f20" >Ag levels</text>
<text x="150.80" y="307.60" font-size="5.2" text-anchor="start" font-weight="normal" fill="#231f20" >Survival</text>
<text x="94.05" y="266.00" font-size="8.6" text-anchor="middle" fill="#231f20" stroke="#231f20" stroke-width="0.05" letter-spacing="-0.2">KEL<tspan font-size="5.6" dy="-3.3" letter-spacing="0">lo</tspan></text>
<line x1="210.40" y1="273.61" x2="210.40" y2="326.75" stroke="#262626" stroke-width="1.5" />
<line x1="207.00" y1="326.00" x2="314.70" y2="326.00" stroke="#262626" stroke-width="1.5" />
<line x1="207.00" y1="314.20" x2="210.40" y2="314.20" stroke="#2b2b2b" stroke-width="1.2" />
<line x1="207.00" y1="302.40" x2="210.40" y2="302.40" stroke="#2b2b2b" stroke-width="1.2" />
<line x1="207.00" y1="290.60" x2="210.40" y2="290.60" stroke="#2b2b2b" stroke-width="1.2" />
<line x1="207.00" y1="278.80" x2="210.40" y2="278.80" stroke="#2b2b2b" stroke-width="1.2" />
<text x="205.10" y="328.05" font-size="5.8" text-anchor="end" font-weight="normal" fill="#231f20" stroke="#231f20" stroke-width="0.08" letter-spacing="0.45">0</text>
<text x="205.10" y="316.25" font-size="5.8" text-anchor="end" font-weight="normal" fill="#231f20" stroke="#231f20" stroke-width="0.08" letter-spacing="0.45">25</text>
<text x="205.10" y="304.45" font-size="5.8" text-anchor="end" font-weight="normal" fill="#231f20" stroke="#231f20" stroke-width="0.08" letter-spacing="0.45">50</text>
<text x="205.10" y="292.65" font-size="5.8" text-anchor="end" font-weight="normal" fill="#231f20" stroke="#231f20" stroke-width="0.08" letter-spacing="0.45">75</text>
<text x="205.10" y="280.85" font-size="5.8" text-anchor="end" font-weight="normal" fill="#231f20" stroke="#231f20" stroke-width="0.08" letter-spacing="0.45">100</text>
<line x1="226.50" y1="326.00" x2="226.50" y2="329.20" stroke="#2b2b2b" stroke-width="1.2" />
<text x="226.80" y="337.90" font-size="5.8" text-anchor="middle" font-weight="normal" fill="#231f20" stroke="#231f20" stroke-width="0.07" letter-spacing="0.6" word-spacing="-0.6">10 m</text>
<line x1="242.50" y1="326.00" x2="242.50" y2="329.20" stroke="#2b2b2b" stroke-width="1.2" />
<text x="242.80" y="337.90" font-size="5.8" text-anchor="middle" font-weight="normal" fill="#231f20" stroke="#231f20" stroke-width="0.07" letter-spacing="0.6" word-spacing="-0.6">1 h</text>
<line x1="258.50" y1="326.00" x2="258.50" y2="329.20" stroke="#2b2b2b" stroke-width="1.2" />
<text x="258.80" y="337.90" font-size="5.8" text-anchor="middle" font-weight="normal" fill="#231f20" stroke="#231f20" stroke-width="0.07" letter-spacing="0.6" word-spacing="-0.6">2 h</text>
<line x1="274.50" y1="326.00" x2="274.50" y2="329.20" stroke="#2b2b2b" stroke-width="1.2" />
<text x="274.80" y="337.90" font-size="5.8" text-anchor="middle" font-weight="normal" fill="#231f20" stroke="#231f20" stroke-width="0.07" letter-spacing="0.6" word-spacing="-0.6">4 h</text>
<line x1="290.50" y1="326.00" x2="290.50" y2="329.20" stroke="#2b2b2b" stroke-width="1.2" />
<text x="290.80" y="337.90" font-size="5.8" text-anchor="middle" font-weight="normal" fill="#231f20" stroke="#231f20" stroke-width="0.07" letter-spacing="0.6" word-spacing="-0.6">6 h</text>
<line x1="306.50" y1="326.00" x2="306.50" y2="329.20" stroke="#2b2b2b" stroke-width="1.2" />
<text x="306.80" y="337.90" font-size="5.8" text-anchor="middle" font-weight="normal" fill="#231f20" stroke="#231f20" stroke-width="0.07" letter-spacing="0.6" word-spacing="-0.6">24 h</text>
<text x="0" y="0" font-size="9" text-anchor="middle" fill="#231f20" stroke="#231f20" stroke-width="0.1" transform="translate(188.00,300.10) rotate(-90) scale(0.7,1)">%</text>
<polyline points="210.40,278.80 226.50,289.00 242.50,311.13 258.50,315.99 274.50,318.54 290.50,319.20 306.50,321.75" fill="none" stroke="#1f3d7c" stroke-width="1.15" stroke-dasharray="1.4,1.5"/>
<polyline points="210.40,278.80 226.50,282.62 242.50,286.87 258.50,289.42 274.50,290.93 290.50,291.12 306.50,289.84" fill="none" stroke="#1f3d7c" stroke-width="1.3"/>
<circle cx="210.40" cy="278.80" r="1.75" fill="#1f3d7c"/>
<circle cx="226.50" cy="282.62" r="1.75" fill="#1f3d7c"/>
<circle cx="242.50" cy="286.87" r="1.75" fill="#1f3d7c"/>
<circle cx="258.50" cy="289.42" r="1.75" fill="#1f3d7c"/>
<circle cx="274.50" cy="290.93" r="1.75" fill="#1f3d7c"/>
<circle cx="290.50" cy="291.12" r="1.75" fill="#1f3d7c"/>
<circle cx="306.50" cy="289.84" r="1.75" fill="#1f3d7c"/>
<rect x="209.15" y="277.55" width="2.5" height="2.5" fill="#fff" stroke="#1f3d7c" stroke-width="0.95"/>
<rect x="225.25" y="287.75" width="2.5" height="2.5" fill="#fff" stroke="#1f3d7c" stroke-width="0.95"/>
<rect x="241.25" y="309.88" width="2.5" height="2.5" fill="#fff" stroke="#1f3d7c" stroke-width="0.95"/>
<rect x="257.25" y="314.74" width="2.5" height="2.5" fill="#fff" stroke="#1f3d7c" stroke-width="0.95"/>
<rect x="273.25" y="317.29" width="2.5" height="2.5" fill="#fff" stroke="#1f3d7c" stroke-width="0.95"/>
<rect x="289.25" y="317.95" width="2.5" height="2.5" fill="#fff" stroke="#1f3d7c" stroke-width="0.95"/>
<rect x="305.25" y="320.50" width="2.5" height="2.5" fill="#fff" stroke="#1f3d7c" stroke-width="0.95"/>
<line x1="307.90" y1="297.30" x2="315.10" y2="297.30" stroke="#1f3d7c" stroke-width="1" stroke-dasharray="1,1"/>
<rect x="310.25" y="296.05" width="2.5" height="2.5" fill="#fff" stroke="#1f3d7c" stroke-width="0.95"/>
<line x1="307.90" y1="305.80" x2="315.10" y2="305.80" stroke="#1f3d7c" stroke-width="1.2" />
<circle cx="311.50" cy="305.80" r="1.75" fill="#1f3d7c"/>
<text x="317.50" y="299.10" font-size="5.2" text-anchor="start" font-weight="normal" fill="#231f20" >Ag levels</text>
<text x="317.50" y="307.60" font-size="5.2" text-anchor="start" font-weight="normal" fill="#231f20" >Survival</text>
<text x="262.60" y="266.00" font-size="8.6" text-anchor="middle" fill="#231f20" stroke="#231f20" stroke-width="0.05" letter-spacing="-0.2">KEL<tspan font-size="5.6" dy="-3.3" letter-spacing="0">med</tspan></text>
<line x1="376.80" y1="273.61" x2="376.80" y2="326.75" stroke="#262626" stroke-width="1.5" />
<line x1="373.40" y1="326.00" x2="481.10" y2="326.00" stroke="#262626" stroke-width="1.5" />
<line x1="373.40" y1="314.20" x2="376.80" y2="314.20" stroke="#2b2b2b" stroke-width="1.2" />
<line x1="373.40" y1="302.40" x2="376.80" y2="302.40" stroke="#2b2b2b" stroke-width="1.2" />
<line x1="373.40" y1="290.60" x2="376.80" y2="290.60" stroke="#2b2b2b" stroke-width="1.2" />
<line x1="373.40" y1="278.80" x2="376.80" y2="278.80" stroke="#2b2b2b" stroke-width="1.2" />
<text x="371.50" y="328.05" font-size="5.8" text-anchor="end" font-weight="normal" fill="#231f20" stroke="#231f20" stroke-width="0.08" letter-spacing="0.45">0</text>
<text x="371.50" y="316.25" font-size="5.8" text-anchor="end" font-weight="normal" fill="#231f20" stroke="#231f20" stroke-width="0.08" letter-spacing="0.45">25</text>
<text x="371.50" y="304.45" font-size="5.8" text-anchor="end" font-weight="normal" fill="#231f20" stroke="#231f20" stroke-width="0.08" letter-spacing="0.45">50</text>
<text x="371.50" y="292.65" font-size="5.8" text-anchor="end" font-weight="normal" fill="#231f20" stroke="#231f20" stroke-width="0.08" letter-spacing="0.45">75</text>
<text x="371.50" y="280.85" font-size="5.8" text-anchor="end" font-weight="normal" fill="#231f20" stroke="#231f20" stroke-width="0.08" letter-spacing="0.45">100</text>
<line x1="392.50" y1="326.00" x2="392.50" y2="329.20" stroke="#2b2b2b" stroke-width="1.2" />
<text x="392.80" y="337.90" font-size="5.8" text-anchor="middle" font-weight="normal" fill="#231f20" stroke="#231f20" stroke-width="0.07" letter-spacing="0.6" word-spacing="-0.6">10 m</text>
<line x1="408.56" y1="326.00" x2="408.56" y2="329.20" stroke="#2b2b2b" stroke-width="1.2" />
<text x="408.86" y="337.90" font-size="5.8" text-anchor="middle" font-weight="normal" fill="#231f20" stroke="#231f20" stroke-width="0.07" letter-spacing="0.6" word-spacing="-0.6">1 h</text>
<line x1="424.62" y1="326.00" x2="424.62" y2="329.20" stroke="#2b2b2b" stroke-width="1.2" />
<text x="424.92" y="337.90" font-size="5.8" text-anchor="middle" font-weight="normal" fill="#231f20" stroke="#231f20" stroke-width="0.07" letter-spacing="0.6" word-spacing="-0.6">2 h</text>
<line x1="440.68" y1="326.00" x2="440.68" y2="329.20" stroke="#2b2b2b" stroke-width="1.2" />
<text x="440.98" y="337.90" font-size="5.8" text-anchor="middle" font-weight="normal" fill="#231f20" stroke="#231f20" stroke-width="0.07" letter-spacing="0.6" word-spacing="-0.6">4 h</text>
<line x1="456.74" y1="326.00" x2="456.74" y2="329.20" stroke="#2b2b2b" stroke-width="1.2" />
<text x="457.04" y="337.90" font-size="5.8" text-anchor="middle" font-weight="normal" fill="#231f20" stroke="#231f20" stroke-width="0.07" letter-spacing="0.6" word-spacing="-0.6">6 h</text>
<line x1="472.80" y1="326.00" x2="472.80" y2="329.20" stroke="#2b2b2b" stroke-width="1.2" />
<text x="473.10" y="337.90" font-size="5.8" text-anchor="middle" font-weight="normal" fill="#231f20" stroke="#231f20" stroke-width="0.07" letter-spacing="0.6" word-spacing="-0.6">24 h</text>
<text x="0" y="0" font-size="9" text-anchor="middle" fill="#231f20" stroke="#231f20" stroke-width="0.1" transform="translate(354.40,300.10) rotate(-90) scale(0.7,1)">%</text>
<polyline points="376.80,278.80 392.50,293.67 408.56,312.17 424.62,315.38 440.68,318.97 456.74,320.05 472.80,322.18" fill="none" stroke="#a0173b" stroke-width="1.15" stroke-dasharray="1.4,1.5"/>
<polyline points="376.80,278.80 392.50,287.77 408.56,292.02 424.62,292.02 440.68,294.09 456.74,295.37 472.80,291.36" fill="none" stroke="#a0173b" stroke-width="1.3"/>
<circle cx="376.80" cy="278.80" r="1.75" fill="#a0173b"/>
<circle cx="392.50" cy="287.77" r="1.75" fill="#a0173b"/>
<circle cx="408.56" cy="292.02" r="1.75" fill="#a0173b"/>
<circle cx="424.62" cy="292.02" r="1.75" fill="#a0173b"/>
<circle cx="440.68" cy="294.09" r="1.75" fill="#a0173b"/>
<circle cx="456.74" cy="295.37" r="1.75" fill="#a0173b"/>
<circle cx="472.80" cy="291.36" r="1.75" fill="#a0173b"/>
<rect x="375.55" y="277.55" width="2.5" height="2.5" fill="#fff" stroke="#a0173b" stroke-width="0.95"/>
<rect x="391.25" y="292.42" width="2.5" height="2.5" fill="#fff" stroke="#a0173b" stroke-width="0.95"/>
<rect x="407.31" y="310.92" width="2.5" height="2.5" fill="#fff" stroke="#a0173b" stroke-width="0.95"/>
<rect x="423.37" y="314.13" width="2.5" height="2.5" fill="#fff" stroke="#a0173b" stroke-width="0.95"/>
<rect x="439.43" y="317.72" width="2.5" height="2.5" fill="#fff" stroke="#a0173b" stroke-width="0.95"/>
<rect x="455.49" y="318.80" width="2.5" height="2.5" fill="#fff" stroke="#a0173b" stroke-width="0.95"/>
<rect x="471.55" y="320.93" width="2.5" height="2.5" fill="#fff" stroke="#a0173b" stroke-width="0.95"/>
<line x1="475.80" y1="297.30" x2="483.00" y2="297.30" stroke="#a0173b" stroke-width="1" stroke-dasharray="1,1"/>
<rect x="478.15" y="296.05" width="2.5" height="2.5" fill="#fff" stroke="#a0173b" stroke-width="0.95"/>
<line x1="475.80" y1="305.80" x2="483.00" y2="305.80" stroke="#a0173b" stroke-width="1.2" />
<circle cx="479.40" cy="305.80" r="1.75" fill="#a0173b"/>
<text x="485.40" y="299.10" font-size="5.2" text-anchor="start" font-weight="normal" fill="#231f20" >Ag level</text>
<text x="485.40" y="307.60" font-size="5.2" text-anchor="start" font-weight="normal" fill="#231f20" >Survival</text>
<text x="429.10" y="266.00" font-size="8.6" text-anchor="middle" fill="#231f20" stroke="#231f20" stroke-width="0.05" letter-spacing="-0.2">KEL<tspan font-size="5.6" dy="-3.3" letter-spacing="0">hi</tspan></text>
<text x="7.20" y="379.30" font-size="11.2" text-anchor="start" font-weight="bold" fill="#000" >D</text>
<text x="84.55" y="391.50" font-size="8.6" text-anchor="middle" font-weight="normal" fill="#231f20" >PBS</text>
<rect x="42.45" y="424.64" width="1.6" height="33.46" fill="#c4dfb0" stroke="#8cc16d" stroke-width="0.8"/>
<circle cx="43.75" cy="429.22" r="0.95" fill="#53a035"/>
<circle cx="42.75" cy="426.24" r="0.95" fill="#53a035"/>
<circle cx="43.75" cy="423.27" r="0.95" fill="#53a035"/>
<circle cx="42.75" cy="420.30" r="0.95" fill="#53a035"/>
<circle cx="43.75" cy="417.33" r="0.95" fill="#53a035"/>
<text x="0" y="0" font-size="4.6" text-anchor="end" fill="#333" transform="translate(44.30,460.20) rotate(-90) scale(0.95,0.62)">10m</text>
<rect x="46.90" y="434.70" width="1.6" height="23.40" fill="#c4dfb0" stroke="#8cc16d" stroke-width="0.8"/>
<circle cx="48.20" cy="435.61" r="0.95" fill="#53a035"/>
<circle cx="47.20" cy="435.07" r="0.95" fill="#53a035"/>
<circle cx="48.20" cy="434.52" r="0.95" fill="#53a035"/>
<circle cx="47.20" cy="433.97" r="0.95" fill="#53a035"/>
<circle cx="48.20" cy="433.42" r="0.95" fill="#53a035"/>
<text x="0" y="0" font-size="4.6" text-anchor="end" fill="#333" transform="translate(48.75,460.20) rotate(-90) scale(0.95,0.62)">1h</text>
<rect x="51.35" y="433.79" width="1.6" height="24.31" fill="#c4dfb0" stroke="#8cc16d" stroke-width="0.8"/>
<circle cx="52.65" cy="436.53" r="0.95" fill="#53a035"/>
<circle cx="51.65" cy="435.52" r="0.95" fill="#53a035"/>
<circle cx="52.65" cy="434.52" r="0.95" fill="#53a035"/>
<circle cx="51.65" cy="433.51" r="0.95" fill="#53a035"/>
<circle cx="52.65" cy="432.51" r="0.95" fill="#53a035"/>
<text x="0" y="0" font-size="4.6" text-anchor="end" fill="#333" transform="translate(53.20,460.20) rotate(-90) scale(0.95,0.62)">2h</text>
<rect x="55.80" y="430.13" width="1.6" height="27.97" fill="#c4dfb0" stroke="#8cc16d" stroke-width="0.8"/>
<circle cx="57.10" cy="432.51" r="0.95" fill="#53a035"/>
<circle cx="56.10" cy="429.76" r="0.95" fill="#53a035"/>
<circle cx="57.10" cy="427.02" r="0.95" fill="#53a035"/>
<circle cx="56.10" cy="424.28" r="0.95" fill="#53a035"/>
<circle cx="57.10" cy="421.54" r="0.95" fill="#53a035"/>
<text x="0" y="0" font-size="4.6" text-anchor="end" fill="#333" transform="translate(57.65,460.20) rotate(-90) scale(0.95,0.62)">4h</text>
<rect x="60.25" y="435.61" width="1.6" height="22.49" fill="#c4dfb0" stroke="#8cc16d" stroke-width="0.8"/>
<circle cx="61.55" cy="436.53" r="0.95" fill="#53a035"/>
<circle cx="60.55" cy="435.98" r="0.95" fill="#53a035"/>
<circle cx="61.55" cy="435.43" r="0.95" fill="#53a035"/>
<circle cx="60.55" cy="434.88" r="0.95" fill="#53a035"/>
<circle cx="61.55" cy="434.33" r="0.95" fill="#53a035"/>
<text x="0" y="0" font-size="4.6" text-anchor="end" fill="#333" transform="translate(62.10,460.20) rotate(-90) scale(0.95,0.62)">6h</text>
<rect x="64.70" y="432.87" width="1.6" height="25.23" fill="#c4dfb0" stroke="#8cc16d" stroke-width="0.8"/>
<circle cx="66.00" cy="434.70" r="0.95" fill="#53a035"/>
<circle cx="65.00" cy="432.05" r="0.95" fill="#53a035"/>
<circle cx="66.00" cy="429.40" r="0.95" fill="#53a035"/>
<circle cx="65.00" cy="426.75" r="0.95" fill="#53a035"/>
<circle cx="66.00" cy="424.10" r="0.95" fill="#53a035"/>
<text x="0" y="0" font-size="4.6" text-anchor="end" fill="#333" transform="translate(66.55,460.20) rotate(-90) scale(0.95,0.62)">24h</text>
<rect x="72.25" y="424.64" width="1.6" height="33.46" fill="#a0a9d5" stroke="#7583bf" stroke-width="0.8"/>
<circle cx="73.55" cy="437.44" r="0.95" fill="#1f3d7c"/>
<circle cx="72.55" cy="434.24" r="0.95" fill="#1f3d7c"/>
<circle cx="73.55" cy="431.04" r="0.95" fill="#1f3d7c"/>
<circle cx="72.55" cy="427.84" r="0.95" fill="#1f3d7c"/>
<circle cx="73.55" cy="424.64" r="0.95" fill="#1f3d7c"/>
<text x="0" y="0" font-size="4.6" text-anchor="end" fill="#333" transform="translate(74.10,460.20) rotate(-90) scale(0.95,0.62)">10m</text>
<rect x="76.70" y="431.41" width="1.6" height="26.69" fill="#a0a9d5" stroke="#7583bf" stroke-width="0.8"/>
<circle cx="78.00" cy="437.44" r="0.95" fill="#1f3d7c"/>
<circle cx="77.00" cy="435.75" r="0.95" fill="#1f3d7c"/>
<circle cx="78.00" cy="434.06" r="0.95" fill="#1f3d7c"/>
<circle cx="77.00" cy="432.37" r="0.95" fill="#1f3d7c"/>
<circle cx="78.00" cy="430.68" r="0.95" fill="#1f3d7c"/>
<text x="0" y="0" font-size="4.6" text-anchor="end" fill="#333" transform="translate(78.55,460.20) rotate(-90) scale(0.95,0.62)">1h</text>
<rect x="81.15" y="433.79" width="1.6" height="24.31" fill="#a0a9d5" stroke="#7583bf" stroke-width="0.8"/>
<circle cx="82.45" cy="436.53" r="0.95" fill="#1f3d7c"/>
<circle cx="81.45" cy="435.61" r="0.95" fill="#1f3d7c"/>
<circle cx="82.45" cy="434.70" r="0.95" fill="#1f3d7c"/>
<circle cx="81.45" cy="433.79" r="0.95" fill="#1f3d7c"/>
<circle cx="82.45" cy="432.87" r="0.95" fill="#1f3d7c"/>
<text x="0" y="0" font-size="4.6" text-anchor="end" fill="#333" transform="translate(83.00,460.20) rotate(-90) scale(0.95,0.62)">2h</text>
<rect x="85.60" y="429.22" width="1.6" height="28.88" fill="#a0a9d5" stroke="#7583bf" stroke-width="0.8"/>
<circle cx="86.90" cy="433.79" r="0.95" fill="#1f3d7c"/>
<circle cx="85.90" cy="432.41" r="0.95" fill="#1f3d7c"/>
<circle cx="86.90" cy="431.04" r="0.95" fill="#1f3d7c"/>
<circle cx="85.90" cy="429.67" r="0.95" fill="#1f3d7c"/>
<circle cx="86.90" cy="428.30" r="0.95" fill="#1f3d7c"/>
<text x="0" y="0" font-size="4.6" text-anchor="end" fill="#333" transform="translate(87.45,460.20) rotate(-90) scale(0.95,0.62)">4h</text>
<rect x="90.05" y="430.13" width="1.6" height="27.97" fill="#a0a9d5" stroke="#7583bf" stroke-width="0.8"/>
<circle cx="91.35" cy="435.61" r="0.95" fill="#1f3d7c"/>
<circle cx="90.35" cy="434.01" r="0.95" fill="#1f3d7c"/>
<circle cx="91.35" cy="432.41" r="0.95" fill="#1f3d7c"/>
<circle cx="90.35" cy="430.81" r="0.95" fill="#1f3d7c"/>
<circle cx="91.35" cy="429.22" r="0.95" fill="#1f3d7c"/>
<text x="0" y="0" font-size="4.6" text-anchor="end" fill="#333" transform="translate(91.90,460.20) rotate(-90) scale(0.95,0.62)">6h</text>
<rect x="94.50" y="430.13" width="1.6" height="27.97" fill="#a0a9d5" stroke="#7583bf" stroke-width="0.8"/>
<circle cx="95.80" cy="435.61" r="0.95" fill="#1f3d7c"/>
<circle cx="94.80" cy="434.01" r="0.95" fill="#1f3d7c"/>
<circle cx="95.80" cy="432.41" r="0.95" fill="#1f3d7c"/>
<circle cx="94.80" cy="430.81" r="0.95" fill="#1f3d7c"/>
<circle cx="95.80" cy="429.22" r="0.95" fill="#1f3d7c"/>
<text x="0" y="0" font-size="4.6" text-anchor="end" fill="#333" transform="translate(96.35,460.20) rotate(-90) scale(0.95,0.62)">24h</text>
<rect x="102.45" y="428.30" width="1.6" height="29.80" fill="#e6a795" stroke="#d27a66" stroke-width="0.8"/>
<circle cx="103.75" cy="430.13" r="0.95" fill="#a0173b"/>
<circle cx="102.75" cy="429.44" r="0.95" fill="#a0173b"/>
<circle cx="103.75" cy="428.76" r="0.95" fill="#a0173b"/>
<circle cx="102.75" cy="428.07" r="0.95" fill="#a0173b"/>
<circle cx="103.75" cy="427.39" r="0.95" fill="#a0173b"/>
<text x="0" y="0" font-size="4.6" text-anchor="end" fill="#333" transform="translate(104.30,460.20) rotate(-90) scale(0.95,0.62)">10m</text>
<rect x="106.90" y="425.56" width="1.6" height="32.54" fill="#e6a795" stroke="#d27a66" stroke-width="0.8"/>
<circle cx="108.20" cy="430.13" r="0.95" fill="#a0173b"/>
<circle cx="107.20" cy="428.16" r="0.95" fill="#a0173b"/>
<circle cx="108.20" cy="426.20" r="0.95" fill="#a0173b"/>
<circle cx="107.20" cy="424.23" r="0.95" fill="#a0173b"/>
<circle cx="108.20" cy="422.27" r="0.95" fill="#a0173b"/>
<text x="0" y="0" font-size="4.6" text-anchor="end" fill="#333" transform="translate(108.75,460.20) rotate(-90) scale(0.95,0.62)">1h</text>
<rect x="111.35" y="427.39" width="1.6" height="30.71" fill="#e6a795" stroke="#d27a66" stroke-width="0.8"/>
<circle cx="112.65" cy="432.51" r="0.95" fill="#a0173b"/>
<circle cx="111.65" cy="430.54" r="0.95" fill="#a0173b"/>
<circle cx="112.65" cy="428.58" r="0.95" fill="#a0173b"/>
<circle cx="111.65" cy="426.61" r="0.95" fill="#a0173b"/>
<circle cx="112.65" cy="424.64" r="0.95" fill="#a0173b"/>
<text x="0" y="0" font-size="4.6" text-anchor="end" fill="#333" transform="translate(113.20,460.20) rotate(-90) scale(0.95,0.62)">2h</text>
<rect x="115.80" y="431.96" width="1.6" height="26.14" fill="#e6a795" stroke="#d27a66" stroke-width="0.8"/>
<circle cx="117.10" cy="435.61" r="0.95" fill="#a0173b"/>
<circle cx="116.10" cy="434.47" r="0.95" fill="#a0173b"/>
<circle cx="117.10" cy="433.33" r="0.95" fill="#a0173b"/>
<circle cx="116.10" cy="432.19" r="0.95" fill="#a0173b"/>
<circle cx="117.10" cy="431.04" r="0.95" fill="#a0173b"/>
<text x="0" y="0" font-size="4.6" text-anchor="end" fill="#333" transform="translate(117.65,460.20) rotate(-90) scale(0.95,0.62)">4h</text>
<rect x="120.25" y="434.33" width="1.6" height="23.77" fill="#e6a795" stroke="#d27a66" stroke-width="0.8"/>
<circle cx="121.55" cy="436.53" r="0.95" fill="#a0173b"/>
<circle cx="120.55" cy="435.75" r="0.95" fill="#a0173b"/>
<circle cx="121.55" cy="434.97" r="0.95" fill="#a0173b"/>
<circle cx="120.55" cy="434.20" r="0.95" fill="#a0173b"/>
<circle cx="121.55" cy="433.42" r="0.95" fill="#a0173b"/>
<text x="0" y="0" font-size="4.6" text-anchor="end" fill="#333" transform="translate(122.10,460.20) rotate(-90) scale(0.95,0.62)">6h</text>
<rect x="124.70" y="431.04" width="1.6" height="27.06" fill="#e6a795" stroke="#d27a66" stroke-width="0.8"/>
<circle cx="126.00" cy="434.70" r="0.95" fill="#a0173b"/>
<circle cx="125.00" cy="432.55" r="0.95" fill="#a0173b"/>
<circle cx="126.00" cy="430.40" r="0.95" fill="#a0173b"/>
<circle cx="125.00" cy="428.26" r="0.95" fill="#a0173b"/>
<circle cx="126.00" cy="426.11" r="0.95" fill="#a0173b"/>
<text x="0" y="0" font-size="4.6" text-anchor="end" fill="#333" transform="translate(126.55,460.20) rotate(-90) scale(0.95,0.62)">24h</text>
<line x1="40.10" y1="397.20" x2="40.10" y2="458.80" stroke="#111" stroke-width="1.5" />
<line x1="39.40" y1="458.10" x2="129.20" y2="458.10" stroke="#111" stroke-width="1.7" />
<line x1="36.70" y1="458.10" x2="40.10" y2="458.10" stroke="#111" stroke-width="0.9" />
<line x1="38.50" y1="456.16" x2="40.10" y2="456.16" stroke="#111" stroke-width="0.5" />
<line x1="38.50" y1="454.21" x2="40.10" y2="454.21" stroke="#111" stroke-width="0.5" />
<line x1="38.50" y1="452.27" x2="40.10" y2="452.27" stroke="#111" stroke-width="0.5" />
<line x1="38.50" y1="450.33" x2="40.10" y2="450.33" stroke="#111" stroke-width="0.5" />
<line x1="38.50" y1="448.38" x2="40.10" y2="448.38" stroke="#111" stroke-width="0.5" />
<line x1="38.50" y1="446.44" x2="40.10" y2="446.44" stroke="#111" stroke-width="0.5" />
<line x1="38.50" y1="444.50" x2="40.10" y2="444.50" stroke="#111" stroke-width="0.5" />
<line x1="38.50" y1="442.55" x2="40.10" y2="442.55" stroke="#111" stroke-width="0.5" />
<line x1="38.50" y1="440.61" x2="40.10" y2="440.61" stroke="#111" stroke-width="0.5" />
<line x1="36.70" y1="438.67" x2="40.10" y2="438.67" stroke="#111" stroke-width="0.9" />
<line x1="38.50" y1="436.72" x2="40.10" y2="436.72" stroke="#111" stroke-width="0.5" />
<line x1="38.50" y1="434.78" x2="40.10" y2="434.78" stroke="#111" stroke-width="0.5" />
<line x1="38.50" y1="432.84" x2="40.10" y2="432.84" stroke="#111" stroke-width="0.5" />
<line x1="38.50" y1="430.89" x2="40.10" y2="430.89" stroke="#111" stroke-width="0.5" />
<line x1="38.50" y1="428.95" x2="40.10" y2="428.95" stroke="#111" stroke-width="0.5" />
<line x1="38.50" y1="427.01" x2="40.10" y2="427.01" stroke="#111" stroke-width="0.5" />
<line x1="38.50" y1="425.06" x2="40.10" y2="425.06" stroke="#111" stroke-width="0.5" />
<line x1="38.50" y1="423.12" x2="40.10" y2="423.12" stroke="#111" stroke-width="0.5" />
<line x1="38.50" y1="421.18" x2="40.10" y2="421.18" stroke="#111" stroke-width="0.5" />
<line x1="36.70" y1="419.23" x2="40.10" y2="419.23" stroke="#111" stroke-width="0.9" />
<line x1="38.50" y1="417.29" x2="40.10" y2="417.29" stroke="#111" stroke-width="0.5" />
<line x1="38.50" y1="415.35" x2="40.10" y2="415.35" stroke="#111" stroke-width="0.5" />
<line x1="38.50" y1="413.40" x2="40.10" y2="413.40" stroke="#111" stroke-width="0.5" />
<line x1="38.50" y1="411.46" x2="40.10" y2="411.46" stroke="#111" stroke-width="0.5" />
<line x1="38.50" y1="409.52" x2="40.10" y2="409.52" stroke="#111" stroke-width="0.5" />
<line x1="38.50" y1="407.57" x2="40.10" y2="407.57" stroke="#111" stroke-width="0.5" />
<line x1="38.50" y1="405.63" x2="40.10" y2="405.63" stroke="#111" stroke-width="0.5" />
<line x1="38.50" y1="403.69" x2="40.10" y2="403.69" stroke="#111" stroke-width="0.5" />
<line x1="38.50" y1="401.74" x2="40.10" y2="401.74" stroke="#111" stroke-width="0.5" />
<line x1="36.70" y1="399.80" x2="40.10" y2="399.80" stroke="#111" stroke-width="0.9" />
<text x="34.25" y="460.25" font-size="6.0" text-anchor="end" font-weight="normal" fill="#231f20" stroke="#231f20" stroke-width="0.05" letter-spacing="0.6">0</text>
<text x="34.25" y="440.82" font-size="6.0" text-anchor="end" font-weight="normal" fill="#231f20" stroke="#231f20" stroke-width="0.05" letter-spacing="0.6">500</text>
<text x="34.25" y="421.38" font-size="6.0" text-anchor="end" font-weight="normal" fill="#231f20" stroke="#231f20" stroke-width="0.05" letter-spacing="0.6">1000</text>
<text x="34.25" y="401.95" font-size="6.0" text-anchor="end" font-weight="normal" fill="#231f20" stroke="#231f20" stroke-width="0.05" letter-spacing="0.6">1500</text>
<text x="0" y="0" font-size="8.2" text-anchor="middle" fill="#231f20" stroke="#231f20" stroke-width="0.04" transform="translate(14.30,427.20) rotate(-90) scale(0.75,1)">Ter119 MFI</text>
<line x1="69.40" y1="398.80" x2="69.40" y2="471.00" stroke="#111" stroke-width="1.05" stroke-dasharray="2.9,2.4"/>
<line x1="99.40" y1="398.80" x2="99.40" y2="471.00" stroke="#111" stroke-width="1.05" stroke-dasharray="2.9,2.4"/>
<text x="0" y="0" font-size="8.8" text-anchor="middle" fill="#231f20" stroke="#231f20" stroke-width="0.22" transform="translate(54.90,481.40) scale(0.6,1)">KEL<tspan font-size="6.8" dy="-3.4">lo</tspan></text>
<text x="0" y="0" font-size="8.8" text-anchor="middle" fill="#231f20" stroke="#231f20" stroke-width="0.22" transform="translate(84.35,481.40) scale(0.6,1)">KEL<tspan font-size="6.8" dy="-3.4">med</tspan></text>
<text x="0" y="0" font-size="8.8" text-anchor="middle" fill="#231f20" stroke="#231f20" stroke-width="0.22" transform="translate(113.65,481.40) scale(0.6,1)">KEL<tspan font-size="6.8" dy="-3.4">hi</tspan></text>
<text x="135.30" y="379.30" font-size="11.2" text-anchor="start" font-weight="bold" fill="#000" >E</text>
<text x="211.70" y="391.50" font-size="8.6" text-anchor="middle" font-weight="normal" fill="#231f20" >Low <tspan font-family="Liberation Serif">α</tspan>KEL</text>
<rect x="170.35" y="428.30" width="1.6" height="29.80" fill="#c4dfb0" stroke="#8cc16d" stroke-width="0.8"/>
<circle cx="171.65" cy="432.87" r="0.95" fill="#53a035"/>
<circle cx="170.65" cy="430.68" r="0.95" fill="#53a035"/>
<circle cx="171.65" cy="428.48" r="0.95" fill="#53a035"/>
<circle cx="170.65" cy="426.29" r="0.95" fill="#53a035"/>
<circle cx="171.65" cy="424.10" r="0.95" fill="#53a035"/>
<text x="0" y="0" font-size="4.6" text-anchor="end" fill="#333" transform="translate(172.20,460.20) rotate(-90) scale(0.95,0.62)">10m</text>
<rect x="174.80" y="433.42" width="1.6" height="24.68" fill="#c4dfb0" stroke="#8cc16d" stroke-width="0.8"/>
<circle cx="176.10" cy="435.61" r="0.95" fill="#53a035"/>
<circle cx="175.10" cy="433.92" r="0.95" fill="#53a035"/>
<circle cx="176.10" cy="432.23" r="0.95" fill="#53a035"/>
<circle cx="175.10" cy="430.54" r="0.95" fill="#53a035"/>
<circle cx="176.10" cy="428.85" r="0.95" fill="#53a035"/>
<text x="0" y="0" font-size="4.6" text-anchor="end" fill="#333" transform="translate(176.65,460.20) rotate(-90) scale(0.95,0.62)">1h</text>
<rect x="179.25" y="434.70" width="1.6" height="23.40" fill="#c4dfb0" stroke="#8cc16d" stroke-width="0.8"/>
<circle cx="180.55" cy="436.53" r="0.95" fill="#53a035"/>
<circle cx="179.55" cy="435.61" r="0.95" fill="#53a035"/>
<circle cx="180.55" cy="434.70" r="0.95" fill="#53a035"/>
<circle cx="179.55" cy="433.79" r="0.95" fill="#53a035"/>
<circle cx="180.55" cy="432.87" r="0.95" fill="#53a035"/>
<text x="0" y="0" font-size="4.6" text-anchor="end" fill="#333" transform="translate(181.10,460.20) rotate(-90) scale(0.95,0.62)">2h</text>
<rect x="183.70" y="433.79" width="1.6" height="24.31" fill="#c4dfb0" stroke="#8cc16d" stroke-width="0.8"/>
<circle cx="185.00" cy="436.53" r="0.95" fill="#53a035"/>
<circle cx="184.00" cy="434.15" r="0.95" fill="#53a035"/>
<circle cx="185.00" cy="431.77" r="0.95" fill="#53a035"/>
<circle cx="184.00" cy="429.40" r="0.95" fill="#53a035"/>
<circle cx="185.00" cy="427.02" r="0.95" fill="#53a035"/>
<text x="0" y="0" font-size="4.6" text-anchor="end" fill="#333" transform="translate(185.55,460.20) rotate(-90) scale(0.95,0.62)">4h</text>
<rect x="188.15" y="434.33" width="1.6" height="23.77" fill="#c4dfb0" stroke="#8cc16d" stroke-width="0.8"/>
<circle cx="189.45" cy="438.36" r="0.95" fill="#53a035"/>
<circle cx="188.45" cy="436.98" r="0.95" fill="#53a035"/>
<circle cx="189.45" cy="435.61" r="0.95" fill="#53a035"/>
<circle cx="188.45" cy="434.24" r="0.95" fill="#53a035"/>
<circle cx="189.45" cy="432.87" r="0.95" fill="#53a035"/>
<text x="0" y="0" font-size="4.6" text-anchor="end" fill="#333" transform="translate(190.00,460.20) rotate(-90) scale(0.95,0.62)">6h</text>
<rect x="192.60" y="429.76" width="1.6" height="28.34" fill="#c4dfb0" stroke="#8cc16d" stroke-width="0.8"/>
<circle cx="193.90" cy="432.87" r="0.95" fill="#53a035"/>
<circle cx="192.90" cy="431.18" r="0.95" fill="#53a035"/>
<circle cx="193.90" cy="429.49" r="0.95" fill="#53a035"/>
<circle cx="192.90" cy="427.80" r="0.95" fill="#53a035"/>
<circle cx="193.90" cy="426.11" r="0.95" fill="#53a035"/>
<text x="0" y="0" font-size="4.6" text-anchor="end" fill="#333" transform="translate(194.45,460.20) rotate(-90) scale(0.95,0.62)">24h</text>
<rect x="200.35" y="431.04" width="1.6" height="27.06" fill="#a0a9d5" stroke="#7583bf" stroke-width="0.8"/>
<circle cx="201.65" cy="435.61" r="0.95" fill="#1f3d7c"/>
<circle cx="200.65" cy="433.56" r="0.95" fill="#1f3d7c"/>
<circle cx="201.65" cy="431.50" r="0.95" fill="#1f3d7c"/>
<circle cx="200.65" cy="429.44" r="0.95" fill="#1f3d7c"/>
<circle cx="201.65" cy="427.39" r="0.95" fill="#1f3d7c"/>
<text x="0" y="0" font-size="4.6" text-anchor="end" fill="#333" transform="translate(202.20,460.20) rotate(-90) scale(0.95,0.62)">10m</text>
<rect x="204.80" y="433.42" width="1.6" height="24.68" fill="#a0a9d5" stroke="#7583bf" stroke-width="0.8"/>
<circle cx="206.10" cy="436.53" r="0.95" fill="#1f3d7c"/>
<circle cx="205.10" cy="434.61" r="0.95" fill="#1f3d7c"/>
<circle cx="206.10" cy="432.69" r="0.95" fill="#1f3d7c"/>
<circle cx="205.10" cy="430.77" r="0.95" fill="#1f3d7c"/>
<circle cx="206.10" cy="428.85" r="0.95" fill="#1f3d7c"/>
<text x="0" y="0" font-size="4.6" text-anchor="end" fill="#333" transform="translate(206.65,460.20) rotate(-90) scale(0.95,0.62)">1h</text>
<rect x="209.25" y="435.98" width="1.6" height="22.12" fill="#a0a9d5" stroke="#7583bf" stroke-width="0.8"/>
<circle cx="210.55" cy="437.44" r="0.95" fill="#1f3d7c"/>
<circle cx="209.55" cy="436.76" r="0.95" fill="#1f3d7c"/>
<circle cx="210.55" cy="436.07" r="0.95" fill="#1f3d7c"/>
<circle cx="209.55" cy="435.39" r="0.95" fill="#1f3d7c"/>
<circle cx="210.55" cy="434.70" r="0.95" fill="#1f3d7c"/>
<text x="0" y="0" font-size="4.6" text-anchor="end" fill="#333" transform="translate(211.10,460.20) rotate(-90) scale(0.95,0.62)">2h</text>
<rect x="213.70" y="427.75" width="1.6" height="30.35" fill="#a0a9d5" stroke="#7583bf" stroke-width="0.8"/>
<circle cx="215.00" cy="430.13" r="0.95" fill="#1f3d7c"/>
<circle cx="214.00" cy="427.84" r="0.95" fill="#1f3d7c"/>
<circle cx="215.00" cy="425.56" r="0.95" fill="#1f3d7c"/>
<circle cx="214.00" cy="423.27" r="0.95" fill="#1f3d7c"/>
<circle cx="215.00" cy="420.99" r="0.95" fill="#1f3d7c"/>
<text x="0" y="0" font-size="4.6" text-anchor="end" fill="#333" transform="translate(215.55,460.20) rotate(-90) scale(0.95,0.62)">4h</text>
<rect x="218.15" y="434.70" width="1.6" height="23.40" fill="#a0a9d5" stroke="#7583bf" stroke-width="0.8"/>
<circle cx="219.45" cy="437.44" r="0.95" fill="#1f3d7c"/>
<circle cx="218.45" cy="435.48" r="0.95" fill="#1f3d7c"/>
<circle cx="219.45" cy="433.51" r="0.95" fill="#1f3d7c"/>
<circle cx="218.45" cy="431.55" r="0.95" fill="#1f3d7c"/>
<circle cx="219.45" cy="429.58" r="0.95" fill="#1f3d7c"/>
<text x="0" y="0" font-size="4.6" text-anchor="end" fill="#333" transform="translate(220.00,460.20) rotate(-90) scale(0.95,0.62)">6h</text>
<rect x="222.60" y="431.96" width="1.6" height="26.14" fill="#a0a9d5" stroke="#7583bf" stroke-width="0.8"/>
<circle cx="223.90" cy="436.53" r="0.95" fill="#1f3d7c"/>
<circle cx="222.90" cy="434.47" r="0.95" fill="#1f3d7c"/>
<circle cx="223.90" cy="432.41" r="0.95" fill="#1f3d7c"/>
<circle cx="222.90" cy="430.36" r="0.95" fill="#1f3d7c"/>
<circle cx="223.90" cy="428.30" r="0.95" fill="#1f3d7c"/>
<text x="0" y="0" font-size="4.6" text-anchor="end" fill="#333" transform="translate(224.45,460.20) rotate(-90) scale(0.95,0.62)">24h</text>
<rect x="230.35" y="426.47" width="1.6" height="31.63" fill="#e6a795" stroke="#d27a66" stroke-width="0.8"/>
<circle cx="231.65" cy="430.13" r="0.95" fill="#a0173b"/>
<circle cx="230.65" cy="428.07" r="0.95" fill="#a0173b"/>
<circle cx="231.65" cy="426.02" r="0.95" fill="#a0173b"/>
<circle cx="230.65" cy="423.96" r="0.95" fill="#a0173b"/>
<circle cx="231.65" cy="421.90" r="0.95" fill="#a0173b"/>
<text x="0" y="0" font-size="4.6" text-anchor="end" fill="#333" transform="translate(232.20,460.20) rotate(-90) scale(0.95,0.62)">10m</text>
<rect x="234.80" y="427.39" width="1.6" height="30.71" fill="#e6a795" stroke="#d27a66" stroke-width="0.8"/>
<circle cx="236.10" cy="432.87" r="0.95" fill="#a0173b"/>
<circle cx="235.10" cy="429.44" r="0.95" fill="#a0173b"/>
<circle cx="236.10" cy="426.02" r="0.95" fill="#a0173b"/>
<circle cx="235.10" cy="422.59" r="0.95" fill="#a0173b"/>
<circle cx="236.10" cy="419.16" r="0.95" fill="#a0173b"/>
<text x="0" y="0" font-size="4.6" text-anchor="end" fill="#333" transform="translate(236.65,460.20) rotate(-90) scale(0.95,0.62)">1h</text>
<rect x="239.25" y="428.85" width="1.6" height="29.25" fill="#e6a795" stroke="#d27a66" stroke-width="0.8"/>
<circle cx="240.55" cy="434.70" r="0.95" fill="#a0173b"/>
<circle cx="239.55" cy="432.78" r="0.95" fill="#a0173b"/>
<circle cx="240.55" cy="430.86" r="0.95" fill="#a0173b"/>
<circle cx="239.55" cy="428.94" r="0.95" fill="#a0173b"/>
<circle cx="240.55" cy="427.02" r="0.95" fill="#a0173b"/>
<text x="0" y="0" font-size="4.6" text-anchor="end" fill="#333" transform="translate(241.10,460.20) rotate(-90) scale(0.95,0.62)">2h</text>
<rect x="243.70" y="431.96" width="1.6" height="26.14" fill="#e6a795" stroke="#d27a66" stroke-width="0.8"/>
<circle cx="245.00" cy="438.36" r="0.95" fill="#a0173b"/>
<circle cx="244.00" cy="436.30" r="0.95" fill="#a0173b"/>
<circle cx="245.00" cy="434.24" r="0.95" fill="#a0173b"/>
<circle cx="244.00" cy="432.19" r="0.95" fill="#a0173b"/>
<circle cx="245.00" cy="430.13" r="0.95" fill="#a0173b"/>
<text x="0" y="0" font-size="4.6" text-anchor="end" fill="#333" transform="translate(245.55,460.20) rotate(-90) scale(0.95,0.62)">4h</text>
<rect x="248.15" y="429.22" width="1.6" height="28.88" fill="#e6a795" stroke="#d27a66" stroke-width="0.8"/>
<circle cx="249.45" cy="438.36" r="0.95" fill="#a0173b"/>
<circle cx="248.45" cy="434.15" r="0.95" fill="#a0173b"/>
<circle cx="249.45" cy="429.95" r="0.95" fill="#a0173b"/>
<circle cx="248.45" cy="425.74" r="0.95" fill="#a0173b"/>
<circle cx="249.45" cy="421.54" r="0.95" fill="#a0173b"/>
<text x="0" y="0" font-size="4.6" text-anchor="end" fill="#333" transform="translate(250.00,460.20) rotate(-90) scale(0.95,0.62)">6h</text>
<rect x="252.60" y="428.30" width="1.6" height="29.80" fill="#e6a795" stroke="#d27a66" stroke-width="0.8"/>
<circle cx="253.90" cy="431.04" r="0.95" fill="#a0173b"/>
<circle cx="252.90" cy="427.75" r="0.95" fill="#a0173b"/>
<circle cx="253.90" cy="424.46" r="0.95" fill="#a0173b"/>
<circle cx="252.90" cy="421.17" r="0.95" fill="#a0173b"/>
<circle cx="253.90" cy="417.88" r="0.95" fill="#a0173b"/>
<text x="0" y="0" font-size="4.6" text-anchor="end" fill="#333" transform="translate(254.45,460.20) rotate(-90) scale(0.95,0.62)">24h</text>
<line x1="168.10" y1="397.20" x2="168.10" y2="458.80" stroke="#111" stroke-width="1.5" />
<line x1="167.40" y1="458.10" x2="256.00" y2="458.10" stroke="#111" stroke-width="1.7" />
<line x1="164.70" y1="458.10" x2="168.10" y2="458.10" stroke="#111" stroke-width="0.9" />
<line x1="166.50" y1="456.16" x2="168.10" y2="456.16" stroke="#111" stroke-width="0.5" />
<line x1="166.50" y1="454.21" x2="168.10" y2="454.21" stroke="#111" stroke-width="0.5" />
<line x1="166.50" y1="452.27" x2="168.10" y2="452.27" stroke="#111" stroke-width="0.5" />
<line x1="166.50" y1="450.33" x2="168.10" y2="450.33" stroke="#111" stroke-width="0.5" />
<line x1="166.50" y1="448.38" x2="168.10" y2="448.38" stroke="#111" stroke-width="0.5" />
<line x1="166.50" y1="446.44" x2="168.10" y2="446.44" stroke="#111" stroke-width="0.5" />
<line x1="166.50" y1="444.50" x2="168.10" y2="444.50" stroke="#111" stroke-width="0.5" />
<line x1="166.50" y1="442.55" x2="168.10" y2="442.55" stroke="#111" stroke-width="0.5" />
<line x1="166.50" y1="440.61" x2="168.10" y2="440.61" stroke="#111" stroke-width="0.5" />
<line x1="164.70" y1="438.67" x2="168.10" y2="438.67" stroke="#111" stroke-width="0.9" />
<line x1="166.50" y1="436.72" x2="168.10" y2="436.72" stroke="#111" stroke-width="0.5" />
<line x1="166.50" y1="434.78" x2="168.10" y2="434.78" stroke="#111" stroke-width="0.5" />
<line x1="166.50" y1="432.84" x2="168.10" y2="432.84" stroke="#111" stroke-width="0.5" />
<line x1="166.50" y1="430.89" x2="168.10" y2="430.89" stroke="#111" stroke-width="0.5" />
<line x1="166.50" y1="428.95" x2="168.10" y2="428.95" stroke="#111" stroke-width="0.5" />
<line x1="166.50" y1="427.01" x2="168.10" y2="427.01" stroke="#111" stroke-width="0.5" />
<line x1="166.50" y1="425.06" x2="168.10" y2="425.06" stroke="#111" stroke-width="0.5" />
<line x1="166.50" y1="423.12" x2="168.10" y2="423.12" stroke="#111" stroke-width="0.5" />
<line x1="166.50" y1="421.18" x2="168.10" y2="421.18" stroke="#111" stroke-width="0.5" />
<line x1="164.70" y1="419.23" x2="168.10" y2="419.23" stroke="#111" stroke-width="0.9" />
<line x1="166.50" y1="417.29" x2="168.10" y2="417.29" stroke="#111" stroke-width="0.5" />
<line x1="166.50" y1="415.35" x2="168.10" y2="415.35" stroke="#111" stroke-width="0.5" />
<line x1="166.50" y1="413.40" x2="168.10" y2="413.40" stroke="#111" stroke-width="0.5" />
<line x1="166.50" y1="411.46" x2="168.10" y2="411.46" stroke="#111" stroke-width="0.5" />
<line x1="166.50" y1="409.52" x2="168.10" y2="409.52" stroke="#111" stroke-width="0.5" />
<line x1="166.50" y1="407.57" x2="168.10" y2="407.57" stroke="#111" stroke-width="0.5" />
<line x1="166.50" y1="405.63" x2="168.10" y2="405.63" stroke="#111" stroke-width="0.5" />
<line x1="166.50" y1="403.69" x2="168.10" y2="403.69" stroke="#111" stroke-width="0.5" />
<line x1="166.50" y1="401.74" x2="168.10" y2="401.74" stroke="#111" stroke-width="0.5" />
<line x1="164.70" y1="399.80" x2="168.10" y2="399.80" stroke="#111" stroke-width="0.9" />
<text x="162.25" y="460.25" font-size="6.0" text-anchor="end" font-weight="normal" fill="#231f20" stroke="#231f20" stroke-width="0.05" letter-spacing="0.6">0</text>
<text x="162.25" y="440.82" font-size="6.0" text-anchor="end" font-weight="normal" fill="#231f20" stroke="#231f20" stroke-width="0.05" letter-spacing="0.6">500</text>
<text x="162.25" y="421.38" font-size="6.0" text-anchor="end" font-weight="normal" fill="#231f20" stroke="#231f20" stroke-width="0.05" letter-spacing="0.6">1000</text>
<text x="162.25" y="401.95" font-size="6.0" text-anchor="end" font-weight="normal" fill="#231f20" stroke="#231f20" stroke-width="0.05" letter-spacing="0.6">1500</text>
<text x="0" y="0" font-size="8.2" text-anchor="middle" fill="#231f20" stroke="#231f20" stroke-width="0.04" transform="translate(141.80,427.20) rotate(-90) scale(0.75,1)">Ter119 MFI</text>
<line x1="197.50" y1="398.80" x2="197.50" y2="471.00" stroke="#111" stroke-width="1.05" stroke-dasharray="2.9,2.4"/>
<line x1="227.30" y1="398.80" x2="227.30" y2="471.00" stroke="#111" stroke-width="1.05" stroke-dasharray="2.9,2.4"/>
<text x="0" y="0" font-size="8.8" text-anchor="middle" fill="#231f20" stroke="#231f20" stroke-width="0.22" transform="translate(182.20,481.40) scale(0.6,1)">KEL<tspan font-size="6.8" dy="-3.4">lo</tspan></text>
<text x="0" y="0" font-size="8.8" text-anchor="middle" fill="#231f20" stroke="#231f20" stroke-width="0.22" transform="translate(212.40,481.40) scale(0.6,1)">KEL<tspan font-size="6.8" dy="-3.4">med</tspan></text>
<text x="0" y="0" font-size="8.8" text-anchor="middle" fill="#231f20" stroke="#231f20" stroke-width="0.22" transform="translate(242.00,481.40) scale(0.6,1)">KEL<tspan font-size="6.8" dy="-3.4">hi</tspan></text>
<text x="263.20" y="379.30" font-size="11.2" text-anchor="start" font-weight="bold" fill="#000" >F</text>
<text x="339.85" y="391.50" font-size="8.6" text-anchor="middle" font-weight="normal" fill="#231f20" >Med <tspan font-family="Liberation Serif">α</tspan>KEL</text>
<rect x="298.05" y="428.30" width="1.6" height="29.80" fill="#c4dfb0" stroke="#8cc16d" stroke-width="0.8"/>
<circle cx="299.35" cy="434.70" r="0.95" fill="#53a035"/>
<circle cx="298.35" cy="431.50" r="0.95" fill="#53a035"/>
<circle cx="299.35" cy="428.30" r="0.95" fill="#53a035"/>
<circle cx="298.35" cy="425.10" r="0.95" fill="#53a035"/>
<circle cx="299.35" cy="421.90" r="0.95" fill="#53a035"/>
<text x="0" y="0" font-size="4.6" text-anchor="end" fill="#333" transform="translate(299.90,460.20) rotate(-90) scale(0.95,0.62)">10m</text>
<rect x="302.50" y="431.04" width="1.6" height="27.06" fill="#c4dfb0" stroke="#8cc16d" stroke-width="0.8"/>
<circle cx="303.80" cy="435.61" r="0.95" fill="#53a035"/>
<circle cx="302.80" cy="434.24" r="0.95" fill="#53a035"/>
<circle cx="303.80" cy="432.87" r="0.95" fill="#53a035"/>
<circle cx="302.80" cy="431.50" r="0.95" fill="#53a035"/>
<circle cx="303.80" cy="430.13" r="0.95" fill="#53a035"/>
<text x="0" y="0" font-size="4.6" text-anchor="end" fill="#333" transform="translate(304.35,460.20) rotate(-90) scale(0.95,0.62)">1h</text>
<rect x="306.95" y="432.87" width="1.6" height="25.23" fill="#c4dfb0" stroke="#8cc16d" stroke-width="0.8"/>
<circle cx="308.25" cy="438.36" r="0.95" fill="#53a035"/>
<circle cx="307.25" cy="436.62" r="0.95" fill="#53a035"/>
<circle cx="308.25" cy="434.88" r="0.95" fill="#53a035"/>
<circle cx="307.25" cy="433.15" r="0.95" fill="#53a035"/>
<circle cx="308.25" cy="431.41" r="0.95" fill="#53a035"/>
<text x="0" y="0" font-size="4.6" text-anchor="end" fill="#333" transform="translate(308.80,460.20) rotate(-90) scale(0.95,0.62)">2h</text>
<rect x="311.40" y="430.13" width="1.6" height="27.97" fill="#c4dfb0" stroke="#8cc16d" stroke-width="0.8"/>
<circle cx="312.70" cy="434.70" r="0.95" fill="#53a035"/>
<circle cx="311.70" cy="432.32" r="0.95" fill="#53a035"/>
<circle cx="312.70" cy="429.95" r="0.95" fill="#53a035"/>
<circle cx="311.70" cy="427.57" r="0.95" fill="#53a035"/>
<circle cx="312.70" cy="425.19" r="0.95" fill="#53a035"/>
<text x="0" y="0" font-size="4.6" text-anchor="end" fill="#333" transform="translate(313.25,460.20) rotate(-90) scale(0.95,0.62)">4h</text>
<rect x="315.85" y="431.96" width="1.6" height="26.14" fill="#c4dfb0" stroke="#8cc16d" stroke-width="0.8"/>
<circle cx="317.15" cy="436.53" r="0.95" fill="#53a035"/>
<circle cx="316.15" cy="434.01" r="0.95" fill="#53a035"/>
<circle cx="317.15" cy="431.50" r="0.95" fill="#53a035"/>
<circle cx="316.15" cy="428.99" r="0.95" fill="#53a035"/>
<circle cx="317.15" cy="426.47" r="0.95" fill="#53a035"/>
<text x="0" y="0" font-size="4.6" text-anchor="end" fill="#333" transform="translate(317.70,460.20) rotate(-90) scale(0.95,0.62)">6h</text>
<rect x="320.30" y="425.56" width="1.6" height="32.54" fill="#c4dfb0" stroke="#8cc16d" stroke-width="0.8"/>
<circle cx="321.60" cy="430.13" r="0.95" fill="#53a035"/>
<circle cx="320.60" cy="427.98" r="0.95" fill="#53a035"/>
<circle cx="321.60" cy="425.83" r="0.95" fill="#53a035"/>
<circle cx="320.60" cy="423.68" r="0.95" fill="#53a035"/>
<circle cx="321.60" cy="421.54" r="0.95" fill="#53a035"/>
<text x="0" y="0" font-size="4.6" text-anchor="end" fill="#333" transform="translate(322.15,460.20) rotate(-90) scale(0.95,0.62)">24h</text>
<rect x="327.45" y="431.96" width="1.6" height="26.14" fill="#a0a9d5" stroke="#7583bf" stroke-width="0.8"/>
<circle cx="328.75" cy="433.79" r="0.95" fill="#1f3d7c"/>
<circle cx="327.75" cy="430.81" r="0.95" fill="#1f3d7c"/>
<circle cx="328.75" cy="427.84" r="0.95" fill="#1f3d7c"/>
<circle cx="327.75" cy="424.87" r="0.95" fill="#1f3d7c"/>
<circle cx="328.75" cy="421.90" r="0.95" fill="#1f3d7c"/>
<text x="0" y="0" font-size="4.6" text-anchor="end" fill="#333" transform="translate(329.30,460.20) rotate(-90) scale(0.95,0.62)">10m</text>
<rect x="331.90" y="430.13" width="1.6" height="27.97" fill="#a0a9d5" stroke="#7583bf" stroke-width="0.8"/>
<circle cx="333.20" cy="435.61" r="0.95" fill="#1f3d7c"/>
<circle cx="332.20" cy="432.55" r="0.95" fill="#1f3d7c"/>
<circle cx="333.20" cy="429.49" r="0.95" fill="#1f3d7c"/>
<circle cx="332.20" cy="426.43" r="0.95" fill="#1f3d7c"/>
<circle cx="333.20" cy="423.36" r="0.95" fill="#1f3d7c"/>
<text x="0" y="0" font-size="4.6" text-anchor="end" fill="#333" transform="translate(333.75,460.20) rotate(-90) scale(0.95,0.62)">1h</text>
<rect x="336.35" y="432.87" width="1.6" height="25.23" fill="#a0a9d5" stroke="#7583bf" stroke-width="0.8"/>
<circle cx="337.65" cy="436.53" r="0.95" fill="#1f3d7c"/>
<circle cx="336.65" cy="434.70" r="0.95" fill="#1f3d7c"/>
<circle cx="337.65" cy="432.87" r="0.95" fill="#1f3d7c"/>
<circle cx="336.65" cy="431.04" r="0.95" fill="#1f3d7c"/>
<circle cx="337.65" cy="429.22" r="0.95" fill="#1f3d7c"/>
<text x="0" y="0" font-size="4.6" text-anchor="end" fill="#333" transform="translate(338.20,460.20) rotate(-90) scale(0.95,0.62)">2h</text>
<rect x="340.80" y="429.22" width="1.6" height="28.88" fill="#a0a9d5" stroke="#7583bf" stroke-width="0.8"/>
<circle cx="342.10" cy="432.87" r="0.95" fill="#1f3d7c"/>
<circle cx="341.10" cy="430.59" r="0.95" fill="#1f3d7c"/>
<circle cx="342.10" cy="428.30" r="0.95" fill="#1f3d7c"/>
<circle cx="341.10" cy="426.02" r="0.95" fill="#1f3d7c"/>
<circle cx="342.10" cy="423.73" r="0.95" fill="#1f3d7c"/>
<text x="0" y="0" font-size="4.6" text-anchor="end" fill="#333" transform="translate(342.65,460.20) rotate(-90) scale(0.95,0.62)">4h</text>
<rect x="345.25" y="435.61" width="1.6" height="22.49" fill="#a0a9d5" stroke="#7583bf" stroke-width="0.8"/>
<circle cx="346.55" cy="438.36" r="0.95" fill="#1f3d7c"/>
<circle cx="345.55" cy="436.30" r="0.95" fill="#1f3d7c"/>
<circle cx="346.55" cy="434.24" r="0.95" fill="#1f3d7c"/>
<circle cx="345.55" cy="432.19" r="0.95" fill="#1f3d7c"/>
<circle cx="346.55" cy="430.13" r="0.95" fill="#1f3d7c"/>
<text x="0" y="0" font-size="4.6" text-anchor="end" fill="#333" transform="translate(347.10,460.20) rotate(-90) scale(0.95,0.62)">6h</text>
<rect x="349.70" y="430.13" width="1.6" height="27.97" fill="#a0a9d5" stroke="#7583bf" stroke-width="0.8"/>
<circle cx="351.00" cy="436.53" r="0.95" fill="#1f3d7c"/>
<circle cx="350.00" cy="434.01" r="0.95" fill="#1f3d7c"/>
<circle cx="351.00" cy="431.50" r="0.95" fill="#1f3d7c"/>
<circle cx="350.00" cy="428.99" r="0.95" fill="#1f3d7c"/>
<circle cx="351.00" cy="426.47" r="0.95" fill="#1f3d7c"/>
<text x="0" y="0" font-size="4.6" text-anchor="end" fill="#333" transform="translate(351.55,460.20) rotate(-90) scale(0.95,0.62)">24h</text>
<rect x="357.45" y="426.47" width="1.6" height="31.63" fill="#e6a795" stroke="#d27a66" stroke-width="0.8"/>
<circle cx="358.75" cy="432.87" r="0.95" fill="#a0173b"/>
<circle cx="357.75" cy="429.76" r="0.95" fill="#a0173b"/>
<circle cx="358.75" cy="426.66" r="0.95" fill="#a0173b"/>
<circle cx="357.75" cy="423.55" r="0.95" fill="#a0173b"/>
<circle cx="358.75" cy="420.44" r="0.95" fill="#a0173b"/>
<text x="0" y="0" font-size="4.6" text-anchor="end" fill="#333" transform="translate(359.30,460.20) rotate(-90) scale(0.95,0.62)">10m</text>
<rect x="361.90" y="427.39" width="1.6" height="30.71" fill="#e6a795" stroke="#d27a66" stroke-width="0.8"/>
<circle cx="363.20" cy="432.87" r="0.95" fill="#a0173b"/>
<circle cx="362.20" cy="429.90" r="0.95" fill="#a0173b"/>
<circle cx="363.20" cy="426.93" r="0.95" fill="#a0173b"/>
<circle cx="362.20" cy="423.96" r="0.95" fill="#a0173b"/>
<circle cx="363.20" cy="420.99" r="0.95" fill="#a0173b"/>
<text x="0" y="0" font-size="4.6" text-anchor="end" fill="#333" transform="translate(363.75,460.20) rotate(-90) scale(0.95,0.62)">1h</text>
<rect x="366.35" y="429.22" width="1.6" height="28.88" fill="#e6a795" stroke="#d27a66" stroke-width="0.8"/>
<circle cx="367.65" cy="434.70" r="0.95" fill="#a0173b"/>
<circle cx="366.65" cy="432.41" r="0.95" fill="#a0173b"/>
<circle cx="367.65" cy="430.13" r="0.95" fill="#a0173b"/>
<circle cx="366.65" cy="427.84" r="0.95" fill="#a0173b"/>
<circle cx="367.65" cy="425.56" r="0.95" fill="#a0173b"/>
<text x="0" y="0" font-size="4.6" text-anchor="end" fill="#333" transform="translate(368.20,460.20) rotate(-90) scale(0.95,0.62)">2h</text>
<rect x="370.80" y="431.04" width="1.6" height="27.06" fill="#e6a795" stroke="#d27a66" stroke-width="0.8"/>
<circle cx="372.10" cy="435.61" r="0.95" fill="#a0173b"/>
<circle cx="371.10" cy="433.33" r="0.95" fill="#a0173b"/>
<circle cx="372.10" cy="431.04" r="0.95" fill="#a0173b"/>
<circle cx="371.10" cy="428.76" r="0.95" fill="#a0173b"/>
<circle cx="372.10" cy="426.47" r="0.95" fill="#a0173b"/>
<text x="0" y="0" font-size="4.6" text-anchor="end" fill="#333" transform="translate(372.65,460.20) rotate(-90) scale(0.95,0.62)">4h</text>
<rect x="375.25" y="433.79" width="1.6" height="24.31" fill="#e6a795" stroke="#d27a66" stroke-width="0.8"/>
<circle cx="376.55" cy="436.53" r="0.95" fill="#a0173b"/>
<circle cx="375.55" cy="434.61" r="0.95" fill="#a0173b"/>
<circle cx="376.55" cy="432.69" r="0.95" fill="#a0173b"/>
<circle cx="375.55" cy="430.77" r="0.95" fill="#a0173b"/>
<circle cx="376.55" cy="428.85" r="0.95" fill="#a0173b"/>
<text x="0" y="0" font-size="4.6" text-anchor="end" fill="#333" transform="translate(377.10,460.20) rotate(-90) scale(0.95,0.62)">6h</text>
<rect x="379.70" y="431.96" width="1.6" height="26.14" fill="#e6a795" stroke="#d27a66" stroke-width="0.8"/>
<circle cx="381.00" cy="434.70" r="0.95" fill="#a0173b"/>
<circle cx="380.00" cy="432.96" r="0.95" fill="#a0173b"/>
<circle cx="381.00" cy="431.23" r="0.95" fill="#a0173b"/>
<circle cx="380.00" cy="429.49" r="0.95" fill="#a0173b"/>
<circle cx="381.00" cy="427.75" r="0.95" fill="#a0173b"/>
<text x="0" y="0" font-size="4.6" text-anchor="end" fill="#333" transform="translate(381.55,460.20) rotate(-90) scale(0.95,0.62)">24h</text>
<line x1="295.30" y1="397.20" x2="295.30" y2="458.80" stroke="#111" stroke-width="1.5" />
<line x1="294.60" y1="458.10" x2="383.70" y2="458.10" stroke="#111" stroke-width="1.7" />
<line x1="291.90" y1="458.10" x2="295.30" y2="458.10" stroke="#111" stroke-width="0.9" />
<line x1="293.70" y1="456.16" x2="295.30" y2="456.16" stroke="#111" stroke-width="0.5" />
<line x1="293.70" y1="454.21" x2="295.30" y2="454.21" stroke="#111" stroke-width="0.5" />
<line x1="293.70" y1="452.27" x2="295.30" y2="452.27" stroke="#111" stroke-width="0.5" />
<line x1="293.70" y1="450.33" x2="295.30" y2="450.33" stroke="#111" stroke-width="0.5" />
<line x1="293.70" y1="448.38" x2="295.30" y2="448.38" stroke="#111" stroke-width="0.5" />
<line x1="293.70" y1="446.44" x2="295.30" y2="446.44" stroke="#111" stroke-width="0.5" />
<line x1="293.70" y1="444.50" x2="295.30" y2="444.50" stroke="#111" stroke-width="0.5" />
<line x1="293.70" y1="442.55" x2="295.30" y2="442.55" stroke="#111" stroke-width="0.5" />
<line x1="293.70" y1="440.61" x2="295.30" y2="440.61" stroke="#111" stroke-width="0.5" />
<line x1="291.90" y1="438.67" x2="295.30" y2="438.67" stroke="#111" stroke-width="0.9" />
<line x1="293.70" y1="436.72" x2="295.30" y2="436.72" stroke="#111" stroke-width="0.5" />
<line x1="293.70" y1="434.78" x2="295.30" y2="434.78" stroke="#111" stroke-width="0.5" />
<line x1="293.70" y1="432.84" x2="295.30" y2="432.84" stroke="#111" stroke-width="0.5" />
<line x1="293.70" y1="430.89" x2="295.30" y2="430.89" stroke="#111" stroke-width="0.5" />
<line x1="293.70" y1="428.95" x2="295.30" y2="428.95" stroke="#111" stroke-width="0.5" />
<line x1="293.70" y1="427.01" x2="295.30" y2="427.01" stroke="#111" stroke-width="0.5" />
<line x1="293.70" y1="425.06" x2="295.30" y2="425.06" stroke="#111" stroke-width="0.5" />
<line x1="293.70" y1="423.12" x2="295.30" y2="423.12" stroke="#111" stroke-width="0.5" />
<line x1="293.70" y1="421.18" x2="295.30" y2="421.18" stroke="#111" stroke-width="0.5" />
<line x1="291.90" y1="419.23" x2="295.30" y2="419.23" stroke="#111" stroke-width="0.9" />
<line x1="293.70" y1="417.29" x2="295.30" y2="417.29" stroke="#111" stroke-width="0.5" />
<line x1="293.70" y1="415.35" x2="295.30" y2="415.35" stroke="#111" stroke-width="0.5" />
<line x1="293.70" y1="413.40" x2="295.30" y2="413.40" stroke="#111" stroke-width="0.5" />
<line x1="293.70" y1="411.46" x2="295.30" y2="411.46" stroke="#111" stroke-width="0.5" />
<line x1="293.70" y1="409.52" x2="295.30" y2="409.52" stroke="#111" stroke-width="0.5" />
<line x1="293.70" y1="407.57" x2="295.30" y2="407.57" stroke="#111" stroke-width="0.5" />
<line x1="293.70" y1="405.63" x2="295.30" y2="405.63" stroke="#111" stroke-width="0.5" />
<line x1="293.70" y1="403.69" x2="295.30" y2="403.69" stroke="#111" stroke-width="0.5" />
<line x1="293.70" y1="401.74" x2="295.30" y2="401.74" stroke="#111" stroke-width="0.5" />
<line x1="291.90" y1="399.80" x2="295.30" y2="399.80" stroke="#111" stroke-width="0.9" />
<text x="289.45" y="460.25" font-size="6.0" text-anchor="end" font-weight="normal" fill="#231f20" stroke="#231f20" stroke-width="0.05" letter-spacing="0.6">0</text>
<text x="289.45" y="440.82" font-size="6.0" text-anchor="end" font-weight="normal" fill="#231f20" stroke="#231f20" stroke-width="0.05" letter-spacing="0.6">500</text>
<text x="289.45" y="421.38" font-size="6.0" text-anchor="end" font-weight="normal" fill="#231f20" stroke="#231f20" stroke-width="0.05" letter-spacing="0.6">1000</text>
<text x="289.45" y="401.95" font-size="6.0" text-anchor="end" font-weight="normal" fill="#231f20" stroke="#231f20" stroke-width="0.05" letter-spacing="0.6">1500</text>
<text x="0" y="0" font-size="8.2" text-anchor="middle" fill="#231f20" stroke="#231f20" stroke-width="0.04" transform="translate(269.50,427.20) rotate(-90) scale(0.75,1)">Ter119 MFI</text>
<line x1="324.60" y1="398.80" x2="324.60" y2="471.00" stroke="#111" stroke-width="1.05" stroke-dasharray="2.9,2.4"/>
<line x1="354.40" y1="398.80" x2="354.40" y2="471.00" stroke="#111" stroke-width="1.05" stroke-dasharray="2.9,2.4"/>
<text x="0" y="0" font-size="8.8" text-anchor="middle" fill="#231f20" stroke="#231f20" stroke-width="0.22" transform="translate(309.90,482.80) scale(0.6,1)">KEL<tspan font-size="6.8" dy="-3.4">lo</tspan></text>
<text x="0" y="0" font-size="8.8" text-anchor="middle" fill="#231f20" stroke="#231f20" stroke-width="0.22" transform="translate(340.00,482.80) scale(0.6,1)">KEL<tspan font-size="6.8" dy="-3.4">med</tspan></text>
<text x="0" y="0" font-size="8.8" text-anchor="middle" fill="#231f20" stroke="#231f20" stroke-width="0.22" transform="translate(369.40,482.80) scale(0.6,1)">KEL<tspan font-size="6.8" dy="-3.4">hi</tspan></text>
<text x="391.30" y="379.30" font-size="11.2" text-anchor="start" font-weight="bold" fill="#000" >G</text>
<text x="467.50" y="391.50" font-size="8.6" text-anchor="middle" font-weight="normal" fill="#231f20" >Hi <tspan font-family="Liberation Serif">α</tspan>KEL</text>
<rect x="425.65" y="429.22" width="1.6" height="28.88" fill="#c4dfb0" stroke="#8cc16d" stroke-width="0.8"/>
<circle cx="426.95" cy="436.53" r="0.95" fill="#53a035"/>
<circle cx="425.95" cy="433.10" r="0.95" fill="#53a035"/>
<circle cx="426.95" cy="429.67" r="0.95" fill="#53a035"/>
<circle cx="425.95" cy="426.24" r="0.95" fill="#53a035"/>
<circle cx="426.95" cy="422.82" r="0.95" fill="#53a035"/>
<text x="0" y="0" font-size="4.6" text-anchor="end" fill="#333" transform="translate(427.50,460.20) rotate(-90) scale(0.95,0.62)">10m</text>
<rect x="430.10" y="430.13" width="1.6" height="27.97" fill="#c4dfb0" stroke="#8cc16d" stroke-width="0.8"/>
<circle cx="431.40" cy="436.53" r="0.95" fill="#53a035"/>
<circle cx="430.40" cy="433.79" r="0.95" fill="#53a035"/>
<circle cx="431.40" cy="431.04" r="0.95" fill="#53a035"/>
<circle cx="430.40" cy="428.30" r="0.95" fill="#53a035"/>
<circle cx="431.40" cy="425.56" r="0.95" fill="#53a035"/>
<text x="0" y="0" font-size="4.6" text-anchor="end" fill="#333" transform="translate(431.95,460.20) rotate(-90) scale(0.95,0.62)">1h</text>
<rect x="434.55" y="427.39" width="1.6" height="30.71" fill="#c4dfb0" stroke="#8cc16d" stroke-width="0.8"/>
<circle cx="435.85" cy="436.53" r="0.95" fill="#53a035"/>
<circle cx="434.85" cy="432.32" r="0.95" fill="#53a035"/>
<circle cx="435.85" cy="428.12" r="0.95" fill="#53a035"/>
<circle cx="434.85" cy="423.91" r="0.95" fill="#53a035"/>
<circle cx="435.85" cy="419.71" r="0.95" fill="#53a035"/>
<text x="0" y="0" font-size="4.6" text-anchor="end" fill="#333" transform="translate(436.40,460.20) rotate(-90) scale(0.95,0.62)">2h</text>
<rect x="439.00" y="427.39" width="1.6" height="30.71" fill="#c4dfb0" stroke="#8cc16d" stroke-width="0.8"/>
<circle cx="440.30" cy="437.44" r="0.95" fill="#53a035"/>
<circle cx="439.30" cy="432.87" r="0.95" fill="#53a035"/>
<circle cx="440.30" cy="428.30" r="0.95" fill="#53a035"/>
<circle cx="439.30" cy="423.73" r="0.95" fill="#53a035"/>
<circle cx="440.30" cy="419.16" r="0.95" fill="#53a035"/>
<text x="0" y="0" font-size="4.6" text-anchor="end" fill="#333" transform="translate(440.85,460.20) rotate(-90) scale(0.95,0.62)">4h</text>
<rect x="443.45" y="430.13" width="1.6" height="27.97" fill="#c4dfb0" stroke="#8cc16d" stroke-width="0.8"/>
<circle cx="444.75" cy="436.53" r="0.95" fill="#53a035"/>
<circle cx="443.75" cy="434.33" r="0.95" fill="#53a035"/>
<circle cx="444.75" cy="432.14" r="0.95" fill="#53a035"/>
<circle cx="443.75" cy="429.95" r="0.95" fill="#53a035"/>
<circle cx="444.75" cy="427.75" r="0.95" fill="#53a035"/>
<text x="0" y="0" font-size="4.6" text-anchor="end" fill="#333" transform="translate(445.30,460.20) rotate(-90) scale(0.95,0.62)">6h</text>
<rect x="447.90" y="430.13" width="1.6" height="27.97" fill="#c4dfb0" stroke="#8cc16d" stroke-width="0.8"/>
<circle cx="449.20" cy="436.53" r="0.95" fill="#53a035"/>
<circle cx="448.20" cy="433.24" r="0.95" fill="#53a035"/>
<circle cx="449.20" cy="429.95" r="0.95" fill="#53a035"/>
<circle cx="448.20" cy="426.66" r="0.95" fill="#53a035"/>
<circle cx="449.20" cy="423.36" r="0.95" fill="#53a035"/>
<text x="0" y="0" font-size="4.6" text-anchor="end" fill="#333" transform="translate(449.75,460.20) rotate(-90) scale(0.95,0.62)">24h</text>
<rect x="455.45" y="432.87" width="1.6" height="25.23" fill="#a0a9d5" stroke="#7583bf" stroke-width="0.8"/>
<circle cx="456.75" cy="436.53" r="0.95" fill="#1f3d7c"/>
<circle cx="455.75" cy="433.33" r="0.95" fill="#1f3d7c"/>
<circle cx="456.75" cy="430.13" r="0.95" fill="#1f3d7c"/>
<circle cx="455.75" cy="426.93" r="0.95" fill="#1f3d7c"/>
<circle cx="456.75" cy="423.73" r="0.95" fill="#1f3d7c"/>
<text x="0" y="0" font-size="4.6" text-anchor="end" fill="#333" transform="translate(457.30,460.20) rotate(-90) scale(0.95,0.62)">10m</text>
<rect x="459.90" y="434.33" width="1.6" height="23.77" fill="#a0a9d5" stroke="#7583bf" stroke-width="0.8"/>
<circle cx="461.20" cy="438.36" r="0.95" fill="#1f3d7c"/>
<circle cx="460.20" cy="437.12" r="0.95" fill="#1f3d7c"/>
<circle cx="461.20" cy="435.89" r="0.95" fill="#1f3d7c"/>
<circle cx="460.20" cy="434.65" r="0.95" fill="#1f3d7c"/>
<circle cx="461.20" cy="433.42" r="0.95" fill="#1f3d7c"/>
<text x="0" y="0" font-size="4.6" text-anchor="end" fill="#333" transform="translate(461.75,460.20) rotate(-90) scale(0.95,0.62)">1h</text>
<rect x="464.35" y="433.79" width="1.6" height="24.31" fill="#a0a9d5" stroke="#7583bf" stroke-width="0.8"/>
<circle cx="465.65" cy="439.27" r="0.95" fill="#1f3d7c"/>
<circle cx="464.65" cy="437.58" r="0.95" fill="#1f3d7c"/>
<circle cx="465.65" cy="435.89" r="0.95" fill="#1f3d7c"/>
<circle cx="464.65" cy="434.20" r="0.95" fill="#1f3d7c"/>
<circle cx="465.65" cy="432.51" r="0.95" fill="#1f3d7c"/>
<text x="0" y="0" font-size="4.6" text-anchor="end" fill="#333" transform="translate(466.20,460.20) rotate(-90) scale(0.95,0.62)">2h</text>
<rect x="468.80" y="432.87" width="1.6" height="25.23" fill="#a0a9d5" stroke="#7583bf" stroke-width="0.8"/>
<circle cx="470.10" cy="438.36" r="0.95" fill="#1f3d7c"/>
<circle cx="469.10" cy="436.30" r="0.95" fill="#1f3d7c"/>
<circle cx="470.10" cy="434.24" r="0.95" fill="#1f3d7c"/>
<circle cx="469.10" cy="432.19" r="0.95" fill="#1f3d7c"/>
<circle cx="470.10" cy="430.13" r="0.95" fill="#1f3d7c"/>
<text x="0" y="0" font-size="4.6" text-anchor="end" fill="#333" transform="translate(470.65,460.20) rotate(-90) scale(0.95,0.62)">4h</text>
<rect x="473.25" y="435.61" width="1.6" height="22.49" fill="#a0a9d5" stroke="#7583bf" stroke-width="0.8"/>
<circle cx="474.55" cy="442.01" r="0.95" fill="#1f3d7c"/>
<circle cx="473.55" cy="440.18" r="0.95" fill="#1f3d7c"/>
<circle cx="474.55" cy="438.36" r="0.95" fill="#1f3d7c"/>
<circle cx="473.55" cy="436.53" r="0.95" fill="#1f3d7c"/>
<circle cx="474.55" cy="434.70" r="0.95" fill="#1f3d7c"/>
<text x="0" y="0" font-size="4.6" text-anchor="end" fill="#333" transform="translate(475.10,460.20) rotate(-90) scale(0.95,0.62)">6h</text>
<rect x="477.70" y="430.13" width="1.6" height="27.97" fill="#a0a9d5" stroke="#7583bf" stroke-width="0.8"/>
<circle cx="479.00" cy="436.53" r="0.95" fill="#1f3d7c"/>
<circle cx="478.00" cy="433.33" r="0.95" fill="#1f3d7c"/>
<circle cx="479.00" cy="430.13" r="0.95" fill="#1f3d7c"/>
<circle cx="478.00" cy="426.93" r="0.95" fill="#1f3d7c"/>
<circle cx="479.00" cy="423.73" r="0.95" fill="#1f3d7c"/>
<text x="0" y="0" font-size="4.6" text-anchor="end" fill="#333" transform="translate(479.55,460.20) rotate(-90) scale(0.95,0.62)">24h</text>
<rect x="485.45" y="428.30" width="1.6" height="29.80" fill="#e6a795" stroke="#d27a66" stroke-width="0.8"/>
<circle cx="486.75" cy="430.13" r="0.95" fill="#a0173b"/>
<circle cx="485.75" cy="429.44" r="0.95" fill="#a0173b"/>
<circle cx="486.75" cy="428.76" r="0.95" fill="#a0173b"/>
<circle cx="485.75" cy="428.07" r="0.95" fill="#a0173b"/>
<circle cx="486.75" cy="427.39" r="0.95" fill="#a0173b"/>
<text x="0" y="0" font-size="4.6" text-anchor="end" fill="#333" transform="translate(487.30,460.20) rotate(-90) scale(0.95,0.62)">10m</text>
<rect x="489.90" y="432.87" width="1.6" height="25.23" fill="#e6a795" stroke="#d27a66" stroke-width="0.8"/>
<circle cx="491.20" cy="435.61" r="0.95" fill="#a0173b"/>
<circle cx="490.20" cy="434.70" r="0.95" fill="#a0173b"/>
<circle cx="491.20" cy="433.79" r="0.95" fill="#a0173b"/>
<circle cx="490.20" cy="432.87" r="0.95" fill="#a0173b"/>
<circle cx="491.20" cy="431.96" r="0.95" fill="#a0173b"/>
<text x="0" y="0" font-size="4.6" text-anchor="end" fill="#333" transform="translate(491.75,460.20) rotate(-90) scale(0.95,0.62)">1h</text>
<rect x="494.35" y="431.96" width="1.6" height="26.14" fill="#e6a795" stroke="#d27a66" stroke-width="0.8"/>
<circle cx="495.65" cy="436.53" r="0.95" fill="#a0173b"/>
<circle cx="494.65" cy="434.01" r="0.95" fill="#a0173b"/>
<circle cx="495.65" cy="431.50" r="0.95" fill="#a0173b"/>
<circle cx="494.65" cy="428.99" r="0.95" fill="#a0173b"/>
<circle cx="495.65" cy="426.47" r="0.95" fill="#a0173b"/>
<text x="0" y="0" font-size="4.6" text-anchor="end" fill="#333" transform="translate(496.20,460.20) rotate(-90) scale(0.95,0.62)">2h</text>
<rect x="498.80" y="433.79" width="1.6" height="24.31" fill="#e6a795" stroke="#d27a66" stroke-width="0.8"/>
<circle cx="500.10" cy="437.44" r="0.95" fill="#a0173b"/>
<circle cx="499.10" cy="436.30" r="0.95" fill="#a0173b"/>
<circle cx="500.10" cy="435.16" r="0.95" fill="#a0173b"/>
<circle cx="499.10" cy="434.01" r="0.95" fill="#a0173b"/>
<circle cx="500.10" cy="432.87" r="0.95" fill="#a0173b"/>
<text x="0" y="0" font-size="4.6" text-anchor="end" fill="#333" transform="translate(500.65,460.20) rotate(-90) scale(0.95,0.62)">4h</text>
<rect x="503.25" y="431.96" width="1.6" height="26.14" fill="#e6a795" stroke="#d27a66" stroke-width="0.8"/>
<circle cx="504.55" cy="440.18" r="0.95" fill="#a0173b"/>
<circle cx="503.55" cy="436.30" r="0.95" fill="#a0173b"/>
<circle cx="504.55" cy="432.41" r="0.95" fill="#a0173b"/>
<circle cx="503.55" cy="428.53" r="0.95" fill="#a0173b"/>
<circle cx="504.55" cy="424.64" r="0.95" fill="#a0173b"/>
<text x="0" y="0" font-size="4.6" text-anchor="end" fill="#333" transform="translate(505.10,460.20) rotate(-90) scale(0.95,0.62)">6h</text>
<rect x="507.70" y="430.13" width="1.6" height="27.97" fill="#e6a795" stroke="#d27a66" stroke-width="0.8"/>
<circle cx="509.00" cy="435.61" r="0.95" fill="#a0173b"/>
<circle cx="508.00" cy="432.87" r="0.95" fill="#a0173b"/>
<circle cx="509.00" cy="430.13" r="0.95" fill="#a0173b"/>
<circle cx="508.00" cy="427.39" r="0.95" fill="#a0173b"/>
<circle cx="509.00" cy="424.64" r="0.95" fill="#a0173b"/>
<text x="0" y="0" font-size="4.6" text-anchor="end" fill="#333" transform="translate(509.55,460.20) rotate(-90) scale(0.95,0.62)">24h</text>
<line x1="423.00" y1="397.20" x2="423.00" y2="458.80" stroke="#111" stroke-width="1.5" />
<line x1="422.30" y1="458.10" x2="511.70" y2="458.10" stroke="#111" stroke-width="1.7" />
<line x1="419.60" y1="458.10" x2="423.00" y2="458.10" stroke="#111" stroke-width="0.9" />
<line x1="421.40" y1="456.16" x2="423.00" y2="456.16" stroke="#111" stroke-width="0.5" />
<line x1="421.40" y1="454.21" x2="423.00" y2="454.21" stroke="#111" stroke-width="0.5" />
<line x1="421.40" y1="452.27" x2="423.00" y2="452.27" stroke="#111" stroke-width="0.5" />
<line x1="421.40" y1="450.33" x2="423.00" y2="450.33" stroke="#111" stroke-width="0.5" />
<line x1="421.40" y1="448.38" x2="423.00" y2="448.38" stroke="#111" stroke-width="0.5" />
<line x1="421.40" y1="446.44" x2="423.00" y2="446.44" stroke="#111" stroke-width="0.5" />
<line x1="421.40" y1="444.50" x2="423.00" y2="444.50" stroke="#111" stroke-width="0.5" />
<line x1="421.40" y1="442.55" x2="423.00" y2="442.55" stroke="#111" stroke-width="0.5" />
<line x1="421.40" y1="440.61" x2="423.00" y2="440.61" stroke="#111" stroke-width="0.5" />
<line x1="419.60" y1="438.67" x2="423.00" y2="438.67" stroke="#111" stroke-width="0.9" />
<line x1="421.40" y1="436.72" x2="423.00" y2="436.72" stroke="#111" stroke-width="0.5" />
<line x1="421.40" y1="434.78" x2="423.00" y2="434.78" stroke="#111" stroke-width="0.5" />
<line x1="421.40" y1="432.84" x2="423.00" y2="432.84" stroke="#111" stroke-width="0.5" />
<line x1="421.40" y1="430.89" x2="423.00" y2="430.89" stroke="#111" stroke-width="0.5" />
<line x1="421.40" y1="428.95" x2="423.00" y2="428.95" stroke="#111" stroke-width="0.5" />
<line x1="421.40" y1="427.01" x2="423.00" y2="427.01" stroke="#111" stroke-width="0.5" />
<line x1="421.40" y1="425.06" x2="423.00" y2="425.06" stroke="#111" stroke-width="0.5" />
<line x1="421.40" y1="423.12" x2="423.00" y2="423.12" stroke="#111" stroke-width="0.5" />
<line x1="421.40" y1="421.18" x2="423.00" y2="421.18" stroke="#111" stroke-width="0.5" />
<line x1="419.60" y1="419.23" x2="423.00" y2="419.23" stroke="#111" stroke-width="0.9" />
<line x1="421.40" y1="417.29" x2="423.00" y2="417.29" stroke="#111" stroke-width="0.5" />
<line x1="421.40" y1="415.35" x2="423.00" y2="415.35" stroke="#111" stroke-width="0.5" />
<line x1="421.40" y1="413.40" x2="423.00" y2="413.40" stroke="#111" stroke-width="0.5" />
<line x1="421.40" y1="411.46" x2="423.00" y2="411.46" stroke="#111" stroke-width="0.5" />
<line x1="421.40" y1="409.52" x2="423.00" y2="409.52" stroke="#111" stroke-width="0.5" />
<line x1="421.40" y1="407.57" x2="423.00" y2="407.57" stroke="#111" stroke-width="0.5" />
<line x1="421.40" y1="405.63" x2="423.00" y2="405.63" stroke="#111" stroke-width="0.5" />
<line x1="421.40" y1="403.69" x2="423.00" y2="403.69" stroke="#111" stroke-width="0.5" />
<line x1="421.40" y1="401.74" x2="423.00" y2="401.74" stroke="#111" stroke-width="0.5" />
<line x1="419.60" y1="399.80" x2="423.00" y2="399.80" stroke="#111" stroke-width="0.9" />
<text x="417.15" y="460.25" font-size="6.0" text-anchor="end" font-weight="normal" fill="#231f20" stroke="#231f20" stroke-width="0.05" letter-spacing="0.6">0</text>
<text x="417.15" y="440.82" font-size="6.0" text-anchor="end" font-weight="normal" fill="#231f20" stroke="#231f20" stroke-width="0.05" letter-spacing="0.6">500</text>
<text x="417.15" y="421.38" font-size="6.0" text-anchor="end" font-weight="normal" fill="#231f20" stroke="#231f20" stroke-width="0.05" letter-spacing="0.6">1000</text>
<text x="417.15" y="401.95" font-size="6.0" text-anchor="end" font-weight="normal" fill="#231f20" stroke="#231f20" stroke-width="0.05" letter-spacing="0.6">1500</text>
<text x="0" y="0" font-size="8.2" text-anchor="middle" fill="#231f20" stroke="#231f20" stroke-width="0.04" transform="translate(397.50,427.20) rotate(-90) scale(0.75,1)">Ter119 MFI</text>
<line x1="452.60" y1="397.50" x2="452.60" y2="471.00" stroke="#111" stroke-width="1.05" stroke-dasharray="2.9,2.4"/>
<line x1="482.40" y1="397.50" x2="482.40" y2="471.00" stroke="#111" stroke-width="1.05" stroke-dasharray="2.9,2.4"/>
<text x="0" y="0" font-size="8.8" text-anchor="middle" fill="#231f20" stroke="#231f20" stroke-width="0.22" transform="translate(437.90,482.80) scale(0.6,1)">KEL<tspan font-size="6.8" dy="-3.4">lo</tspan></text>
<text x="0" y="0" font-size="8.8" text-anchor="middle" fill="#231f20" stroke="#231f20" stroke-width="0.22" transform="translate(467.40,482.80) scale(0.6,1)">KEL<tspan font-size="6.8" dy="-3.4">med</tspan></text>
<text x="0" y="0" font-size="8.8" text-anchor="middle" fill="#231f20" stroke="#231f20" stroke-width="0.22" transform="translate(497.10,482.80) scale(0.6,1)">KEL<tspan font-size="6.8" dy="-3.4">hi</tspan></text>
</svg></body></html>
